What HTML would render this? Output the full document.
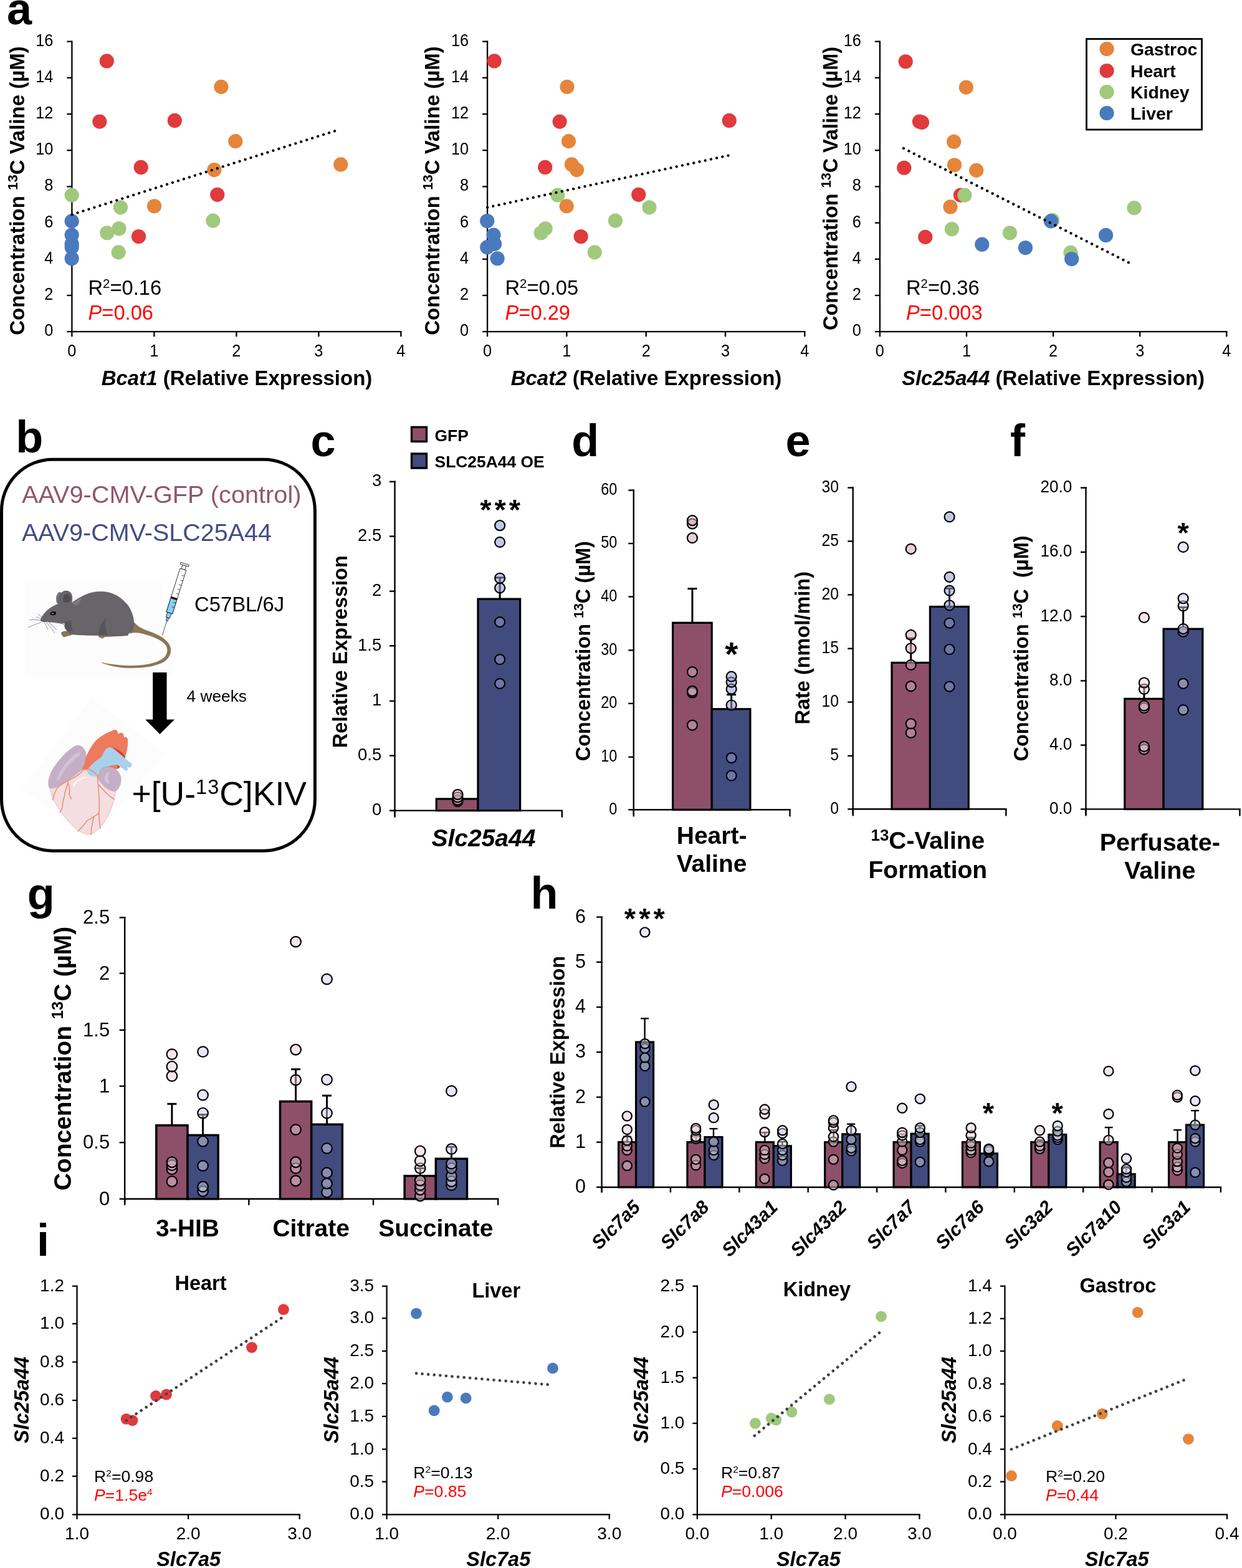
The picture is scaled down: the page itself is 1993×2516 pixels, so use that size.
<!DOCTYPE html>
<html lang="en">
<head>
<meta charset="utf-8">
<title>Figure</title>
<style>
html,body{margin:0;padding:0;background:#fff;}
body{width:1993px;height:2516px;overflow:hidden;}
svg{display:block;font-family:"Liberation Sans", sans-serif;}
text{white-space:pre;}
</style>
</head>
<body>
<svg width="1993" height="2516" viewBox="0 0 1993 2516" role="img" aria-label="Figure panels a to i">
<rect width="1993" height="2516" fill="#ffffff"/>
<text x="11.00" y="39.10" font-size="72" font-weight="bold">a</text>
<line x1="115.40" y1="65.45" x2="115.40" y2="540.20" stroke="#000" stroke-width="2.3"/>
<line x1="107.40" y1="532.20" x2="644.55" y2="532.20" stroke="#000" stroke-width="2.3"/>
<text transform="translate(115.40 571.70) scale(0.89 1)" font-size="28.5" text-anchor="middle">0</text>
<line x1="247.40" y1="532.20" x2="247.40" y2="540.20" stroke="#000" stroke-width="2.3"/>
<text transform="translate(247.40 571.70) scale(0.89 1)" font-size="28.5" text-anchor="middle">1</text>
<line x1="379.40" y1="532.20" x2="379.40" y2="540.20" stroke="#000" stroke-width="2.3"/>
<text transform="translate(379.40 571.70) scale(0.89 1)" font-size="28.5" text-anchor="middle">2</text>
<line x1="511.40" y1="532.20" x2="511.40" y2="540.20" stroke="#000" stroke-width="2.3"/>
<text transform="translate(511.40 571.70) scale(0.89 1)" font-size="28.5" text-anchor="middle">3</text>
<line x1="643.40" y1="532.20" x2="643.40" y2="540.20" stroke="#000" stroke-width="2.3"/>
<text transform="translate(643.40 571.70) scale(0.89 1)" font-size="28.5" text-anchor="middle">4</text>
<text transform="translate(85.40 539.10) scale(0.89 1)" font-size="28.5" text-anchor="end">0</text>
<line x1="107.40" y1="474.00" x2="115.40" y2="474.00" stroke="#000" stroke-width="2.3"/>
<text transform="translate(85.40 480.90) scale(0.89 1)" font-size="28.5" text-anchor="end">2</text>
<line x1="107.40" y1="415.80" x2="115.40" y2="415.80" stroke="#000" stroke-width="2.3"/>
<text transform="translate(85.40 422.70) scale(0.89 1)" font-size="28.5" text-anchor="end">4</text>
<line x1="107.40" y1="357.60" x2="115.40" y2="357.60" stroke="#000" stroke-width="2.3"/>
<text transform="translate(85.40 364.50) scale(0.89 1)" font-size="28.5" text-anchor="end">6</text>
<line x1="107.40" y1="299.40" x2="115.40" y2="299.40" stroke="#000" stroke-width="2.3"/>
<text transform="translate(85.40 306.30) scale(0.89 1)" font-size="28.5" text-anchor="end">8</text>
<line x1="107.40" y1="241.20" x2="115.40" y2="241.20" stroke="#000" stroke-width="2.3"/>
<text transform="translate(85.40 248.10) scale(0.89 1)" font-size="28.5" text-anchor="end">10</text>
<line x1="107.40" y1="183.00" x2="115.40" y2="183.00" stroke="#000" stroke-width="2.3"/>
<text transform="translate(85.40 189.90) scale(0.89 1)" font-size="28.5" text-anchor="end">12</text>
<line x1="107.40" y1="124.80" x2="115.40" y2="124.80" stroke="#000" stroke-width="2.3"/>
<text transform="translate(85.40 131.70) scale(0.89 1)" font-size="28.5" text-anchor="end">14</text>
<line x1="107.40" y1="66.60" x2="115.40" y2="66.60" stroke="#000" stroke-width="2.3"/>
<text transform="translate(85.40 73.50) scale(0.89 1)" font-size="28.5" text-anchor="end">16</text>
<circle cx="354.92" cy="139.34" r="11.6" fill="#E5853A"/>
<circle cx="377.87" cy="226.64" r="11.6" fill="#E5853A"/>
<circle cx="343.85" cy="272.54" r="11.6" fill="#E5853A"/>
<circle cx="546.72" cy="263.93" r="11.6" fill="#E5853A"/>
<circle cx="247.54" cy="330.74" r="11.6" fill="#E5853A"/>
<circle cx="171.31" cy="97.95" r="11.6" fill="#E03A3C"/>
<circle cx="159.84" cy="195.08" r="11.6" fill="#E03A3C"/>
<circle cx="280.33" cy="193.44" r="11.6" fill="#E03A3C"/>
<circle cx="226.23" cy="268.44" r="11.6" fill="#E03A3C"/>
<circle cx="348.77" cy="312.30" r="11.6" fill="#E03A3C"/>
<circle cx="222.54" cy="379.51" r="11.6" fill="#E03A3C"/>
<circle cx="115.16" cy="313.11" r="11.6" fill="#A0C97D"/>
<circle cx="193.44" cy="332.79" r="11.6" fill="#A0C97D"/>
<circle cx="190.98" cy="366.80" r="11.6" fill="#A0C97D"/>
<circle cx="171.72" cy="373.77" r="11.6" fill="#A0C97D"/>
<circle cx="190.16" cy="404.92" r="11.6" fill="#A0C97D"/>
<circle cx="341.80" cy="354.10" r="11.6" fill="#A0C97D"/>
<circle cx="115.16" cy="354.92" r="11.6" fill="#4A7ABE"/>
<circle cx="115.16" cy="377.05" r="11.6" fill="#4A7ABE"/>
<circle cx="115.16" cy="391.39" r="11.6" fill="#4A7ABE"/>
<circle cx="115.16" cy="396.72" r="11.6" fill="#4A7ABE"/>
<circle cx="115.16" cy="414.75" r="11.6" fill="#4A7ABE"/>
<line x1="115.57" y1="344.26" x2="540.98" y2="209.02" stroke="#000" stroke-width="4.3" stroke-linecap="round" stroke-dasharray="0.01 9.4"/>
<text x="141.50" y="472.50" font-size="32.7">R<tspan font-size="20.3" dy="-10.8">2</tspan><tspan dy="10.8">=0.16</tspan></text>
<text x="141.50" y="512.50" font-size="32.7" fill="#FF0000"><tspan font-style="italic">P</tspan>=0.06</text>
<text x="38.90" y="306.00" font-size="33" font-weight="bold" text-anchor="middle" transform="rotate(-90 38.90 306.00)">Concentration <tspan font-size="22.1" dy="-10.9">13</tspan><tspan dy="10.9">C Valine (µM)</tspan></text>
<text x="380.00" y="617.50" font-size="33" font-weight="bold" text-anchor="middle"><tspan font-style="italic">Bcat1</tspan> (Relative Expression)</text>
<line x1="782.10" y1="65.45" x2="782.10" y2="540.20" stroke="#000" stroke-width="2.3"/>
<line x1="774.10" y1="532.20" x2="1292.45" y2="532.20" stroke="#000" stroke-width="2.3"/>
<text transform="translate(782.10 571.70) scale(0.89 1)" font-size="28.5" text-anchor="middle">0</text>
<line x1="909.40" y1="532.20" x2="909.40" y2="540.20" stroke="#000" stroke-width="2.3"/>
<text transform="translate(909.40 571.70) scale(0.89 1)" font-size="28.5" text-anchor="middle">1</text>
<line x1="1036.70" y1="532.20" x2="1036.70" y2="540.20" stroke="#000" stroke-width="2.3"/>
<text transform="translate(1036.70 571.70) scale(0.89 1)" font-size="28.5" text-anchor="middle">2</text>
<line x1="1164.00" y1="532.20" x2="1164.00" y2="540.20" stroke="#000" stroke-width="2.3"/>
<text transform="translate(1164.00 571.70) scale(0.89 1)" font-size="28.5" text-anchor="middle">3</text>
<line x1="1291.30" y1="532.20" x2="1291.30" y2="540.20" stroke="#000" stroke-width="2.3"/>
<text transform="translate(1291.30 571.70) scale(0.89 1)" font-size="28.5" text-anchor="middle">4</text>
<text transform="translate(752.10 539.10) scale(0.89 1)" font-size="28.5" text-anchor="end">0</text>
<line x1="774.10" y1="474.00" x2="782.10" y2="474.00" stroke="#000" stroke-width="2.3"/>
<text transform="translate(752.10 480.90) scale(0.89 1)" font-size="28.5" text-anchor="end">2</text>
<line x1="774.10" y1="415.80" x2="782.10" y2="415.80" stroke="#000" stroke-width="2.3"/>
<text transform="translate(752.10 422.70) scale(0.89 1)" font-size="28.5" text-anchor="end">4</text>
<line x1="774.10" y1="357.60" x2="782.10" y2="357.60" stroke="#000" stroke-width="2.3"/>
<text transform="translate(752.10 364.50) scale(0.89 1)" font-size="28.5" text-anchor="end">6</text>
<line x1="774.10" y1="299.40" x2="782.10" y2="299.40" stroke="#000" stroke-width="2.3"/>
<text transform="translate(752.10 306.30) scale(0.89 1)" font-size="28.5" text-anchor="end">8</text>
<line x1="774.10" y1="241.20" x2="782.10" y2="241.20" stroke="#000" stroke-width="2.3"/>
<text transform="translate(752.10 248.10) scale(0.89 1)" font-size="28.5" text-anchor="end">10</text>
<line x1="774.10" y1="183.00" x2="782.10" y2="183.00" stroke="#000" stroke-width="2.3"/>
<text transform="translate(752.10 189.90) scale(0.89 1)" font-size="28.5" text-anchor="end">12</text>
<line x1="774.10" y1="124.80" x2="782.10" y2="124.80" stroke="#000" stroke-width="2.3"/>
<text transform="translate(752.10 131.70) scale(0.89 1)" font-size="28.5" text-anchor="end">14</text>
<line x1="774.10" y1="66.60" x2="782.10" y2="66.60" stroke="#000" stroke-width="2.3"/>
<text transform="translate(752.10 73.50) scale(0.89 1)" font-size="28.5" text-anchor="end">16</text>
<circle cx="910.00" cy="139.34" r="11.6" fill="#E5853A"/>
<circle cx="912.46" cy="226.64" r="11.6" fill="#E5853A"/>
<circle cx="925.57" cy="272.54" r="11.6" fill="#E5853A"/>
<circle cx="917.38" cy="263.93" r="11.6" fill="#E5853A"/>
<circle cx="909.18" cy="330.74" r="11.6" fill="#E5853A"/>
<circle cx="793.20" cy="97.95" r="11.6" fill="#E03A3C"/>
<circle cx="898.11" cy="195.08" r="11.6" fill="#E03A3C"/>
<circle cx="1170.25" cy="193.44" r="11.6" fill="#E03A3C"/>
<circle cx="874.75" cy="268.44" r="11.6" fill="#E03A3C"/>
<circle cx="1024.75" cy="312.30" r="11.6" fill="#E03A3C"/>
<circle cx="932.13" cy="379.51" r="11.6" fill="#E03A3C"/>
<circle cx="894.84" cy="313.11" r="11.6" fill="#A0C97D"/>
<circle cx="1041.97" cy="332.79" r="11.6" fill="#A0C97D"/>
<circle cx="875.16" cy="366.80" r="11.6" fill="#A0C97D"/>
<circle cx="868.20" cy="373.77" r="11.6" fill="#A0C97D"/>
<circle cx="954.26" cy="404.92" r="11.6" fill="#A0C97D"/>
<circle cx="987.46" cy="354.10" r="11.6" fill="#A0C97D"/>
<circle cx="781.72" cy="354.51" r="11.6" fill="#4A7ABE"/>
<circle cx="791.97" cy="377.05" r="11.6" fill="#4A7ABE"/>
<circle cx="793.61" cy="391.39" r="11.6" fill="#4A7ABE"/>
<circle cx="781.72" cy="396.72" r="11.6" fill="#4A7ABE"/>
<circle cx="798.11" cy="414.75" r="11.6" fill="#4A7ABE"/>
<line x1="782.13" y1="332.79" x2="1170.25" y2="249.18" stroke="#000" stroke-width="4.3" stroke-linecap="round" stroke-dasharray="0.01 9.4"/>
<text x="810.50" y="472.50" font-size="32.7">R<tspan font-size="20.3" dy="-10.8">2</tspan><tspan dy="10.8">=0.05</tspan></text>
<text x="810.50" y="512.50" font-size="32.7" fill="#FF0000"><tspan font-style="italic">P</tspan>=0.29</text>
<text x="705.10" y="306.00" font-size="33" font-weight="bold" text-anchor="middle" transform="rotate(-90 705.10 306.00)">Concentration <tspan font-size="22.1" dy="-10.9">13</tspan><tspan dy="10.9">C Valine (µM)</tspan></text>
<text x="1037.00" y="617.50" font-size="33" font-weight="bold" text-anchor="middle"><tspan font-style="italic">Bcat2</tspan> (Relative Expression)</text>
<line x1="1411.90" y1="65.45" x2="1411.90" y2="540.20" stroke="#000" stroke-width="2.3"/>
<line x1="1403.90" y1="532.20" x2="1969.45" y2="532.20" stroke="#000" stroke-width="2.3"/>
<text transform="translate(1411.90 571.70) scale(0.89 1)" font-size="28.5" text-anchor="middle">0</text>
<line x1="1551.00" y1="532.20" x2="1551.00" y2="540.20" stroke="#000" stroke-width="2.3"/>
<text transform="translate(1551.00 571.70) scale(0.89 1)" font-size="28.5" text-anchor="middle">1</text>
<line x1="1690.10" y1="532.20" x2="1690.10" y2="540.20" stroke="#000" stroke-width="2.3"/>
<text transform="translate(1690.10 571.70) scale(0.89 1)" font-size="28.5" text-anchor="middle">2</text>
<line x1="1829.20" y1="532.20" x2="1829.20" y2="540.20" stroke="#000" stroke-width="2.3"/>
<text transform="translate(1829.20 571.70) scale(0.89 1)" font-size="28.5" text-anchor="middle">3</text>
<line x1="1968.30" y1="532.20" x2="1968.30" y2="540.20" stroke="#000" stroke-width="2.3"/>
<text transform="translate(1968.30 571.70) scale(0.89 1)" font-size="28.5" text-anchor="middle">4</text>
<text transform="translate(1381.90 539.10) scale(0.89 1)" font-size="28.5" text-anchor="end">0</text>
<line x1="1403.90" y1="474.00" x2="1411.90" y2="474.00" stroke="#000" stroke-width="2.3"/>
<text transform="translate(1381.90 480.90) scale(0.89 1)" font-size="28.5" text-anchor="end">2</text>
<line x1="1403.90" y1="415.80" x2="1411.90" y2="415.80" stroke="#000" stroke-width="2.3"/>
<text transform="translate(1381.90 422.70) scale(0.89 1)" font-size="28.5" text-anchor="end">4</text>
<line x1="1403.90" y1="357.60" x2="1411.90" y2="357.60" stroke="#000" stroke-width="2.3"/>
<text transform="translate(1381.90 364.50) scale(0.89 1)" font-size="28.5" text-anchor="end">6</text>
<line x1="1403.90" y1="299.40" x2="1411.90" y2="299.40" stroke="#000" stroke-width="2.3"/>
<text transform="translate(1381.90 306.30) scale(0.89 1)" font-size="28.5" text-anchor="end">8</text>
<line x1="1403.90" y1="241.20" x2="1411.90" y2="241.20" stroke="#000" stroke-width="2.3"/>
<text transform="translate(1381.90 248.10) scale(0.89 1)" font-size="28.5" text-anchor="end">10</text>
<line x1="1403.90" y1="183.00" x2="1411.90" y2="183.00" stroke="#000" stroke-width="2.3"/>
<text transform="translate(1381.90 189.90) scale(0.89 1)" font-size="28.5" text-anchor="end">12</text>
<line x1="1403.90" y1="124.80" x2="1411.90" y2="124.80" stroke="#000" stroke-width="2.3"/>
<text transform="translate(1381.90 131.70) scale(0.89 1)" font-size="28.5" text-anchor="end">14</text>
<line x1="1403.90" y1="66.60" x2="1411.90" y2="66.60" stroke="#000" stroke-width="2.3"/>
<text transform="translate(1381.90 73.50) scale(0.89 1)" font-size="28.5" text-anchor="end">16</text>
<circle cx="1550.38" cy="140.16" r="11.6" fill="#E5853A"/>
<circle cx="1530.70" cy="227.46" r="11.6" fill="#E5853A"/>
<circle cx="1566.77" cy="273.36" r="11.6" fill="#E5853A"/>
<circle cx="1531.52" cy="264.75" r="11.6" fill="#E5853A"/>
<circle cx="1524.97" cy="331.97" r="11.6" fill="#E5853A"/>
<circle cx="1453.25" cy="98.77" r="11.6" fill="#E03A3C"/>
<circle cx="1479.48" cy="196.31" r="11.6" fill="#E03A3C"/>
<circle cx="1475.38" cy="195.08" r="11.6" fill="#E03A3C"/>
<circle cx="1450.79" cy="269.26" r="11.6" fill="#E03A3C"/>
<circle cx="1541.36" cy="313.11" r="11.6" fill="#E03A3C"/>
<circle cx="1484.80" cy="380.33" r="11.6" fill="#E03A3C"/>
<circle cx="1547.92" cy="313.11" r="11.6" fill="#A0C97D"/>
<circle cx="1820.05" cy="333.61" r="11.6" fill="#A0C97D"/>
<circle cx="1527.43" cy="367.62" r="11.6" fill="#A0C97D"/>
<circle cx="1620.46" cy="373.77" r="11.6" fill="#A0C97D"/>
<circle cx="1718.00" cy="405.33" r="11.6" fill="#A0C97D"/>
<circle cx="1688.49" cy="353.28" r="11.6" fill="#A0C97D"/>
<circle cx="1686.44" cy="354.92" r="11.6" fill="#4A7ABE"/>
<circle cx="1774.56" cy="377.46" r="11.6" fill="#4A7ABE"/>
<circle cx="1575.79" cy="392.21" r="11.6" fill="#4A7ABE"/>
<circle cx="1645.46" cy="397.54" r="11.6" fill="#4A7ABE"/>
<circle cx="1719.64" cy="415.57" r="11.6" fill="#4A7ABE"/>
<line x1="1449.97" y1="238.11" x2="1813.49" y2="422.54" stroke="#000" stroke-width="4.3" stroke-linecap="round" stroke-dasharray="0.01 9.4"/>
<text x="1454.00" y="472.50" font-size="32.7">R<tspan font-size="20.3" dy="-10.8">2</tspan><tspan dy="10.8">=0.36</tspan></text>
<text x="1454.00" y="512.50" font-size="32.7" fill="#FF0000"><tspan font-style="italic">P</tspan>=0.003</text>
<text x="1344.20" y="302.50" font-size="32.4" font-weight="bold" text-anchor="middle" transform="rotate(-90 1344.20 302.50)">Concentration <tspan font-size="21.7" dy="-10.7">13</tspan><tspan dy="10.7">C Valine (µM)</tspan></text>
<text x="1690.00" y="617.50" font-size="33" font-weight="bold" text-anchor="middle"><tspan font-style="italic">Slc25a44</tspan> (Relative Expression)</text>
<rect x="1743.50" y="62.50" width="185.00" height="145.50" fill="#fff" stroke="#000" stroke-width="2.8"/>
<circle cx="1776.00" cy="78.50" r="11.6" fill="#E5853A"/>
<text x="1814.00" y="88.70" font-size="28.4" font-weight="bold">Gastroc</text>
<circle cx="1776.00" cy="113.50" r="11.6" fill="#E03A3C"/>
<text x="1814.00" y="123.70" font-size="28.4" font-weight="bold">Heart</text>
<circle cx="1776.00" cy="147.50" r="11.6" fill="#A0C97D"/>
<text x="1814.00" y="157.70" font-size="28.4" font-weight="bold">Kidney</text>
<circle cx="1776.00" cy="181.50" r="11.6" fill="#4A7ABE"/>
<text x="1814.00" y="191.70" font-size="28.4" font-weight="bold">Liver</text>
<text x="25.20" y="726.40" font-size="72" font-weight="bold">b</text>
<rect x="2.50" y="737.20" width="502.90" height="628.00" fill="none" stroke="#000" stroke-width="5.0" rx="82"/>
<text x="35.00" y="806.80" font-size="39.7" fill="#91566F">AAV9-CMV-GFP (control)</text>
<text x="35.00" y="868.00" font-size="39.5" fill="#444D82">AAV9-CMV-SLC25A44</text>
<rect x="39.7" y="932.2" width="220.4" height="152.8" fill="#FCFCFC"/>
<rect x="258.3" y="1020.9" width="19.3" height="64.1" fill="#FCFCFC"/>
<g transform="translate(30,890) scale(0.17564)">
<path d="M1040 600 C1075 650 1120 675 1190 700 C1290 735 1350 775 1380 830 C1400 880 1385 935 1335 972 C1270 1015 1160 1035 1030 1035 C930 1035 830 1018 755 985 C840 1003 930 1015 1030 1015 C1150 1015 1250 995 1310 955 C1355 925 1368 880 1352 840 C1330 795 1270 765 1180 735 C1110 712 1060 705 1020 720 Z" fill="#8C7553" stroke="#6F5C40" stroke-width="2"/>
</g>
<g transform="translate(30,920) scale(0.11710)" stroke-linejoin="round">
<path d="M1170 820 L1500 825 L1495 852 L1180 868 L1150 888 L1125 880 L1100 868 L1095 845 L1120 828 Z" fill="#8C7553" stroke="#4A484D" stroke-width="5"/>
<path d="M690 810 L1110 835 L1105 852 L700 840 Z" fill="#8C7553"/>
<path d="M700 800 C660 790 620 792 595 805 C578 818 585 838 600 845 C598 862 615 875 632 868 C650 862 680 850 720 845 Z" fill="#8C7553" stroke="#4A484D" stroke-width="5"/>
<path d="M528 410 C508 360 512 300 545 268 C565 250 582 262 588 285 L575 410 Z" fill="#7A777C" stroke="#4A484D" stroke-width="5"/>
<path d="M300 640 C312 600 350 545 400 500 C445 462 495 435 545 418 C540 360 555 290 600 255 C640 228 695 235 720 280 C735 315 738 365 722 405 C790 360 880 300 985 268 C1060 248 1150 245 1230 262 C1330 285 1430 350 1500 445 C1550 520 1578 610 1576 690 C1574 750 1550 800 1510 825 C1470 845 1400 850 1320 848 C1240 848 1170 842 1110 845 C1000 850 860 848 760 835 C720 828 690 812 665 790 C640 765 615 725 640 690 C600 678 520 668 450 662 C400 660 345 664 320 660 C305 655 298 648 300 640 Z" fill="#67646A" stroke="#4A484D" stroke-width="5"/>
<path d="M728 408 C770 378 820 350 868 335 C850 370 830 410 800 445 C775 440 750 425 728 408 Z" fill="#7C797E"/>
<path d="M642 690 C660 660 690 645 722 640 C715 690 725 745 742 790 C715 795 690 800 665 790 C640 765 620 725 642 690 Z" fill="#57555B"/>
<path d="M1100 845 C1095 770 1120 680 1195 615 C1180 700 1190 780 1220 848 Z" fill="#57555B"/>
<path d="M612 385 C598 340 615 295 655 280 C690 275 715 310 712 355 C708 385 690 400 660 402 C640 402 622 398 612 385 Z" fill="#4F4D52"/>
<ellipse cx="472" cy="548" rx="41" ry="26" transform="rotate(-6 472 548)" fill="#0E0E0E"/>
<ellipse cx="468" cy="550" rx="11" ry="8" fill="#C8C8C8"/>
<path d="M335 655 C420 665 520 672 600 690 C615 705 625 720 640 700 C650 685 650 668 648 655" fill="none" stroke="#3E3C40" stroke-width="7" stroke-linecap="round"/>
<path d="M300 642 C250 636 200 634 150 636" fill="none" stroke="#97A3B0" stroke-width="9" stroke-linecap="round"/>
<path d="M302 622 C280 608 258 600 240 598" fill="none" stroke="#97A3B0" stroke-width="9" stroke-linecap="round"/>
<path d="M318 604 C300 585 285 572 266 558" fill="none" stroke="#97A3B0" stroke-width="9" stroke-linecap="round"/>
<path d="M305 672 C245 690 190 712 135 738" fill="none" stroke="#97A3B0" stroke-width="9" stroke-linecap="round"/>
<path d="M350 668 C370 700 388 735 398 765" fill="none" stroke="#97A3B0" stroke-width="9" stroke-linecap="round"/>
<path d="M372 662 C415 710 455 760 492 815" fill="none" stroke="#97A3B0" stroke-width="9" stroke-linecap="round"/>
<path d="M392 655 C435 690 478 730 515 770" fill="none" stroke="#97A3B0" stroke-width="9" stroke-linecap="round"/>
</g>
<g transform="translate(30,890) scale(0.17564) translate(1518,85) rotate(17.54)" stroke="#1a1a1a" stroke-width="4.6" stroke-linejoin="round">
<rect x="-40" y="-3" width="80" height="17" fill="#fff"/>
<rect x="-17" y="14" width="34" height="38" fill="#fff"/>
<rect x="-29" y="52" width="58" height="417" fill="#fff"/>
<rect x="-29" y="336" width="58" height="133" fill="#86D0F4"/>
<rect x="-29" y="322" width="58" height="13" fill="#111"/>
<rect x="-18" y="469" width="36" height="46" fill="#86D0F4"/>
<rect x="-8" y="515" width="16" height="31" fill="#86D0F4"/>
<line x1="0" y1="546" x2="0" y2="684" stroke-width="4"/>
<line x1="5" y1="107" x2="29" y2="107" stroke-width="4"/>
<line x1="5" y1="153" x2="29" y2="153" stroke-width="4"/>
<line x1="5" y1="196" x2="29" y2="196" stroke-width="4"/>
<line x1="5" y1="238" x2="29" y2="238" stroke-width="4"/>
<line x1="5" y1="281" x2="29" y2="281" stroke-width="4"/>
<line x1="5" y1="366" x2="29" y2="366" stroke-width="4"/>
<line x1="5" y1="409" x2="29" y2="409" stroke-width="4"/>
</g>
<text x="312.00" y="981.20" font-size="32.8">C57BL/6J</text>
<path d="M245.2 1079 L267.6 1079 L267.6 1154.6 L280.2 1154.6 L256.5 1178 L233.2 1154.6 L245.2 1154.6 Z" fill="#000"/>
<text x="299.50" y="1125.50" font-size="26.3">4 weeks</text>
<g transform="translate(30,1110) scale(0.15222)">
<path d="M770 62 L1552 652 L770 1562 L30 1020 Z" fill="#FCFCFC"/>
<path d="M665 820 C690 720 730 620 800 530 C850 470 930 430 1010 400 C1030 395 1045 420 1050 450 C1065 425 1095 425 1105 450 L1112 485 C1125 470 1148 478 1150 505 C1155 570 1140 640 1118 700 C1095 760 1070 800 1040 815 L900 840 L760 830 Z" fill="#EC7A5B"/>
<path d="M990 590 C1040 600 1100 640 1125 690 C1110 740 1080 790 1045 812 C1040 760 1020 700 985 640 Z" fill="#E2382E"/>
<path d="M328 1005 C420 960 540 880 650 825 C720 830 790 860 840 890 C900 940 960 1000 1022 1040 C1010 1130 980 1240 930 1330 C890 1400 830 1470 760 1505 C700 1500 640 1480 600 1440 C520 1370 440 1270 385 1170 C350 1110 335 1050 328 1005 Z" fill="#F4DEE1" stroke="#E8B4B8" stroke-width="6"/>
<path d="M580 1000 C600 950 660 910 740 900 C680 890 600 920 570 990 Z" fill="#FFFFFF" opacity="0.9"/>
<path d="M718 830 C750 780 820 720 870 690 C890 660 900 620 930 595 C950 580 975 585 1000 600 L1192 760 C1198 775 1185 795 1168 800 L1140 790 C1155 810 1150 830 1132 835 L1040 770 C980 770 920 790 880 810 C850 830 830 860 815 890 C770 900 730 880 718 830 Z" fill="#A9D1EA"/>
<path d="M322 1010 C300 960 320 880 370 800 C430 710 510 620 590 575 C640 550 690 580 705 640 C715 700 700 770 655 830 C600 880 520 930 440 985 C400 1010 355 1025 322 1010 Z" fill="#C5AFC6" stroke="#A892AE" stroke-width="3"/>
<path d="M400 930 C430 830 520 700 620 640 C640 630 655 640 650 665 C560 720 470 830 430 930 Z" fill="#D8C7D9" opacity="0.8"/>
<path d="M830 880 C850 820 900 785 960 790 C1020 800 1070 850 1078 910 C1082 970 1060 1020 1020 1048 C980 1050 930 1025 890 985 C855 950 835 915 830 880 Z" fill="#C5AFC6" stroke="#A892AE" stroke-width="3"/>
<path d="M905 940 C900 890 925 850 970 835 C940 870 935 920 960 975 Z" fill="#D8C7D9" opacity="0.8"/>
<path d="M690 815 C660 850 630 880 590 900 C530 930 470 960 420 1000 C390 1030 370 1080 360 1140" fill="none" stroke="#EC8D6E" stroke-width="10" stroke-linecap="round" stroke-linejoin="round"/>
<path d="M520 950 C510 1000 490 1040 485 1080 C480 1120 465 1150 462 1190 C470 1215 450 1240 435 1270" fill="none" stroke="#EC8D6E" stroke-width="10" stroke-linecap="round" stroke-linejoin="round"/>
<path d="M520 960 C535 1000 545 1040 530 1080 C540 1100 548 1115 555 1130" fill="none" stroke="#EC8D6E" stroke-width="10" stroke-linecap="round" stroke-linejoin="round"/>
<path d="M730 810 C770 830 800 850 825 875 C835 930 840 1000 845 1080 C850 1150 855 1220 845 1290 C850 1360 855 1410 860 1440" fill="none" stroke="#EC8D6E" stroke-width="10" stroke-linecap="round" stroke-linejoin="round"/>
<path d="M845 980 C880 1020 920 1070 960 1100 C980 1115 995 1125 1005 1135" fill="none" stroke="#EC8D6E" stroke-width="10" stroke-linecap="round" stroke-linejoin="round"/>
<path d="M845 1280 C800 1310 760 1340 720 1360 C690 1400 660 1440 625 1470" fill="none" stroke="#EC8D6E" stroke-width="10" stroke-linecap="round" stroke-linejoin="round"/>
<path d="M790 1320 C780 1380 770 1420 765 1450 C770 1480 765 1495 760 1505" fill="none" stroke="#EC8D6E" stroke-width="10" stroke-linecap="round" stroke-linejoin="round"/>
</g>
<text x="211.50" y="1292.00" font-size="53.5">+[U-<tspan font-size="32.5" dy="-18.5" letter-spacing="1">13</tspan><tspan dy="18.5">C]KIV</tspan></text>
<text x="498.40" y="732.00" font-size="72" font-weight="bold">c</text>
<rect x="660.50" y="685.40" width="24.00" height="23.00" fill="#8E4F69" stroke="#000" stroke-width="3.4"/>
<rect x="660.50" y="728.00" width="24.00" height="23.00" fill="#424B7E" stroke="#000" stroke-width="3.4"/>
<text x="697.59" y="707.60" font-size="26.4" font-weight="bold">GFP</text>
<text x="697.59" y="750.30" font-size="26.4" font-weight="bold">SLC25A44 OE</text>
<rect x="700.26" y="1281.94" width="66.74" height="18.69" fill="#8E4F69" stroke="#000" stroke-width="3.2"/>
<rect x="767.00" y="961.12" width="67.63" height="339.51" fill="#424B7E" stroke="#000" stroke-width="3.2"/>
<line x1="802.15" y1="961.12" x2="802.15" y2="926.86" stroke="#000" stroke-width="3.0"/>
<line x1="794.65" y1="926.86" x2="809.65" y2="926.86" stroke="#000" stroke-width="3.0"/>
<line x1="633.51" y1="771.70" x2="633.51" y2="1309.13" stroke="#000" stroke-width="2.4"/>
<line x1="625.01" y1="772.90" x2="634.71" y2="772.90" stroke="#000" stroke-width="2.4"/>
<text x="612.31" y="780.30" font-size="27.5" text-anchor="end">3</text>
<line x1="625.01" y1="860.56" x2="634.71" y2="860.56" stroke="#000" stroke-width="2.4"/>
<text x="612.31" y="867.96" font-size="27.5" text-anchor="end">2.5</text>
<line x1="625.01" y1="948.67" x2="634.71" y2="948.67" stroke="#000" stroke-width="2.4"/>
<text x="612.31" y="956.06" font-size="27.5" text-anchor="end">2</text>
<line x1="625.01" y1="1036.32" x2="634.71" y2="1036.32" stroke="#000" stroke-width="2.4"/>
<text x="612.31" y="1043.72" font-size="27.5" text-anchor="end">1.5</text>
<line x1="625.01" y1="1124.87" x2="634.71" y2="1124.87" stroke="#000" stroke-width="2.4"/>
<text x="612.31" y="1132.27" font-size="27.5" text-anchor="end">1</text>
<line x1="625.01" y1="1212.53" x2="634.71" y2="1212.53" stroke="#000" stroke-width="2.4"/>
<text x="612.31" y="1219.93" font-size="27.5" text-anchor="end">0.5</text>
<line x1="625.01" y1="1300.63" x2="634.71" y2="1300.63" stroke="#000" stroke-width="2.4"/>
<text x="612.31" y="1308.03" font-size="27.5" text-anchor="end">0</text>
<line x1="632.31" y1="1300.63" x2="903.03" y2="1300.63" stroke="#000" stroke-width="2.4"/>
<line x1="633.51" y1="1300.63" x2="633.51" y2="1311.63" stroke="#000" stroke-width="2.4"/>
<line x1="901.83" y1="1300.63" x2="901.83" y2="1311.63" stroke="#000" stroke-width="2.4"/>
<circle cx="734.52" cy="1285.95" r="8.0" fill="#D2ACB9" fill-opacity="0.55" stroke="#000" stroke-width="2.2"/>
<circle cx="734.52" cy="1283.72" r="8.0" fill="#D2ACB9" fill-opacity="0.55" stroke="#000" stroke-width="2.2"/>
<circle cx="734.52" cy="1279.27" r="8.0" fill="#D2ACB9" fill-opacity="0.55" stroke="#000" stroke-width="2.2"/>
<circle cx="734.52" cy="1274.82" r="8.0" fill="#D2ACB9" fill-opacity="0.55" stroke="#000" stroke-width="2.2"/>
<circle cx="802.15" cy="1096.84" r="8.0" fill="#939BCF" fill-opacity="0.55" stroke="#000" stroke-width="2.2"/>
<circle cx="802.15" cy="1058.13" r="8.0" fill="#939BCF" fill-opacity="0.55" stroke="#000" stroke-width="2.2"/>
<circle cx="802.15" cy="998.06" r="8.0" fill="#939BCF" fill-opacity="0.55" stroke="#000" stroke-width="2.2"/>
<circle cx="802.15" cy="943.33" r="8.0" fill="#939BCF" fill-opacity="0.55" stroke="#000" stroke-width="2.2"/>
<circle cx="802.15" cy="927.75" r="8.0" fill="#939BCF" fill-opacity="0.55" stroke="#000" stroke-width="2.2"/>
<circle cx="802.15" cy="869.91" r="8.0" fill="#939BCF" fill-opacity="0.55" stroke="#000" stroke-width="2.2"/>
<circle cx="802.15" cy="843.21" r="8.0" fill="#939BCF" fill-opacity="0.55" stroke="#000" stroke-width="2.2"/>
<text x="805.10" y="833.59" font-size="47" font-weight="bold" text-anchor="middle" letter-spacing="5.0">***</text>
<text x="557.04" y="1045.67" font-size="32.5" font-weight="bold" text-anchor="middle" transform="rotate(-90 557.04 1045.67)">Relative Expression</text>
<text x="775.90" y="1357.50" font-size="39" font-weight="bold" font-style="italic" text-anchor="middle">Slc25a44</text>
<text x="917.30" y="732.00" font-size="72" font-weight="bold">d</text>
<rect x="1079.60" y="999.34" width="62.60" height="299.91" fill="#8E4F69" stroke="#000" stroke-width="3.2"/>
<rect x="1142.20" y="1137.73" width="61.70" height="161.52" fill="#424B7E" stroke="#000" stroke-width="3.2"/>
<line x1="1110.96" y1="999.34" x2="1110.96" y2="944.61" stroke="#000" stroke-width="3.0"/>
<line x1="1103.46" y1="944.61" x2="1118.46" y2="944.61" stroke="#000" stroke-width="3.0"/>
<line x1="1173.65" y1="1137.73" x2="1173.65" y2="1114.59" stroke="#000" stroke-width="3.0"/>
<line x1="1166.15" y1="1114.59" x2="1181.15" y2="1114.59" stroke="#000" stroke-width="3.0"/>
<line x1="1016.79" y1="785.45" x2="1016.79" y2="1307.75" stroke="#000" stroke-width="2.4"/>
<line x1="1008.29" y1="786.65" x2="1017.99" y2="786.65" stroke="#000" stroke-width="2.4"/>
<text transform="translate(990.29 794.05) scale(0.855 1)" font-size="27.5" text-anchor="end">60</text>
<line x1="1008.29" y1="872.08" x2="1017.99" y2="872.08" stroke="#000" stroke-width="2.4"/>
<text transform="translate(990.29 879.48) scale(0.855 1)" font-size="27.5" text-anchor="end">50</text>
<line x1="1008.29" y1="957.51" x2="1017.99" y2="957.51" stroke="#000" stroke-width="2.4"/>
<text transform="translate(990.29 964.91) scale(0.855 1)" font-size="27.5" text-anchor="end">40</text>
<line x1="1008.29" y1="1043.39" x2="1017.99" y2="1043.39" stroke="#000" stroke-width="2.4"/>
<text transform="translate(990.29 1050.79) scale(0.855 1)" font-size="27.5" text-anchor="end">30</text>
<line x1="1008.29" y1="1128.83" x2="1017.99" y2="1128.83" stroke="#000" stroke-width="2.4"/>
<text transform="translate(990.29 1136.22) scale(0.855 1)" font-size="27.5" text-anchor="end">20</text>
<line x1="1008.29" y1="1214.70" x2="1017.99" y2="1214.70" stroke="#000" stroke-width="2.4"/>
<text transform="translate(990.29 1222.10) scale(0.855 1)" font-size="27.5" text-anchor="end">10</text>
<line x1="1008.29" y1="1299.25" x2="1017.99" y2="1299.25" stroke="#000" stroke-width="2.4"/>
<text transform="translate(990.29 1306.65) scale(0.855 1)" font-size="27.5" text-anchor="end">0</text>
<line x1="1015.59" y1="1299.25" x2="1268.70" y2="1299.25" stroke="#000" stroke-width="2.4"/>
<line x1="1016.79" y1="1299.25" x2="1016.79" y2="1310.25" stroke="#000" stroke-width="2.4"/>
<line x1="1267.50" y1="1299.25" x2="1267.50" y2="1310.25" stroke="#000" stroke-width="2.4"/>
<circle cx="1110.96" cy="1163.53" r="8.0" fill="#D2ACB9" fill-opacity="0.55" stroke="#000" stroke-width="2.2"/>
<circle cx="1110.96" cy="1111.47" r="8.0" fill="#D2ACB9" fill-opacity="0.55" stroke="#000" stroke-width="2.2"/>
<circle cx="1110.96" cy="1108.80" r="8.0" fill="#D2ACB9" fill-opacity="0.55" stroke="#000" stroke-width="2.2"/>
<circle cx="1110.96" cy="1078.10" r="8.0" fill="#D2ACB9" fill-opacity="0.55" stroke="#000" stroke-width="2.2"/>
<circle cx="1110.96" cy="863.18" r="8.0" fill="#D2ACB9" fill-opacity="0.55" stroke="#000" stroke-width="2.2"/>
<circle cx="1110.96" cy="840.49" r="8.0" fill="#D2ACB9" fill-opacity="0.55" stroke="#000" stroke-width="2.2"/>
<circle cx="1110.96" cy="835.15" r="8.0" fill="#D2ACB9" fill-opacity="0.55" stroke="#000" stroke-width="2.2"/>
<circle cx="1173.65" cy="1244.52" r="8.0" fill="#939BCF" fill-opacity="0.55" stroke="#000" stroke-width="2.2"/>
<circle cx="1173.65" cy="1216.04" r="8.0" fill="#939BCF" fill-opacity="0.55" stroke="#000" stroke-width="2.2"/>
<circle cx="1173.65" cy="1131.50" r="8.0" fill="#939BCF" fill-opacity="0.55" stroke="#000" stroke-width="2.2"/>
<circle cx="1173.65" cy="1105.69" r="8.0" fill="#939BCF" fill-opacity="0.55" stroke="#000" stroke-width="2.2"/>
<circle cx="1173.65" cy="1094.56" r="8.0" fill="#939BCF" fill-opacity="0.55" stroke="#000" stroke-width="2.2"/>
<circle cx="1173.65" cy="1085.66" r="8.0" fill="#939BCF" fill-opacity="0.55" stroke="#000" stroke-width="2.2"/>
<text x="1176.30" y="1067.91" font-size="54" font-weight="bold" text-anchor="middle" letter-spacing="5.0">*</text>
<text x="946.56" y="1044.73" font-size="32.5" font-weight="bold" text-anchor="middle" transform="rotate(-90 946.56 1044.73)">Concentration <tspan font-size="21.4" dy="-10.7">13</tspan><tspan dy="10.7">C (µM)</tspan></text>
<text x="1142.11" y="1354.00" font-size="39" font-weight="bold" text-anchor="middle">Heart-</text>
<text x="1142.11" y="1399.00" font-size="39" font-weight="bold" text-anchor="middle">Valine</text>
<text x="1260.60" y="732.00" font-size="72" font-weight="bold">e</text>
<rect x="1431.01" y="1063.37" width="61.41" height="234.94" fill="#8E4F69" stroke="#000" stroke-width="3.2"/>
<rect x="1492.41" y="973.48" width="61.85" height="324.82" fill="#424B7E" stroke="#000" stroke-width="3.2"/>
<line x1="1461.71" y1="1063.37" x2="1461.71" y2="1024.21" stroke="#000" stroke-width="3.0"/>
<line x1="1454.21" y1="1024.21" x2="1469.21" y2="1024.21" stroke="#000" stroke-width="3.0"/>
<line x1="1523.56" y1="973.48" x2="1523.56" y2="944.12" stroke="#000" stroke-width="3.0"/>
<line x1="1516.06" y1="944.12" x2="1531.06" y2="944.12" stroke="#000" stroke-width="3.0"/>
<line x1="1368.71" y1="781.39" x2="1368.71" y2="1306.81" stroke="#000" stroke-width="2.4"/>
<line x1="1360.21" y1="782.59" x2="1369.91" y2="782.59" stroke="#000" stroke-width="2.4"/>
<text transform="translate(1345.91 789.99) scale(0.9 1)" font-size="27.5" text-anchor="end">30</text>
<line x1="1360.21" y1="868.47" x2="1369.91" y2="868.47" stroke="#000" stroke-width="2.4"/>
<text transform="translate(1345.91 875.87) scale(0.9 1)" font-size="27.5" text-anchor="end">25</text>
<line x1="1360.21" y1="954.35" x2="1369.91" y2="954.35" stroke="#000" stroke-width="2.4"/>
<text transform="translate(1345.91 961.75) scale(0.9 1)" font-size="27.5" text-anchor="end">20</text>
<line x1="1360.21" y1="1040.67" x2="1369.91" y2="1040.67" stroke="#000" stroke-width="2.4"/>
<text transform="translate(1345.91 1048.07) scale(0.9 1)" font-size="27.5" text-anchor="end">15</text>
<line x1="1360.21" y1="1126.55" x2="1369.91" y2="1126.55" stroke="#000" stroke-width="2.4"/>
<text transform="translate(1345.91 1133.95) scale(0.9 1)" font-size="27.5" text-anchor="end">10</text>
<line x1="1360.21" y1="1212.87" x2="1369.91" y2="1212.87" stroke="#000" stroke-width="2.4"/>
<text transform="translate(1345.91 1220.27) scale(0.9 1)" font-size="27.5" text-anchor="end">5</text>
<line x1="1360.21" y1="1298.31" x2="1369.91" y2="1298.31" stroke="#000" stroke-width="2.4"/>
<text transform="translate(1345.91 1305.71) scale(0.9 1)" font-size="27.5" text-anchor="end">0</text>
<line x1="1367.51" y1="1298.31" x2="1615.53" y2="1298.31" stroke="#000" stroke-width="2.4"/>
<line x1="1368.71" y1="1298.31" x2="1368.71" y2="1309.31" stroke="#000" stroke-width="2.4"/>
<line x1="1614.33" y1="1298.31" x2="1614.33" y2="1309.31" stroke="#000" stroke-width="2.4"/>
<circle cx="1461.71" cy="1175.94" r="8.0" fill="#D2ACB9" fill-opacity="0.55" stroke="#000" stroke-width="2.2"/>
<circle cx="1461.71" cy="1161.26" r="8.0" fill="#D2ACB9" fill-opacity="0.55" stroke="#000" stroke-width="2.2"/>
<circle cx="1461.71" cy="1101.19" r="8.0" fill="#D2ACB9" fill-opacity="0.55" stroke="#000" stroke-width="2.2"/>
<circle cx="1461.71" cy="1066.93" r="8.0" fill="#D2ACB9" fill-opacity="0.55" stroke="#000" stroke-width="2.2"/>
<circle cx="1461.71" cy="1040.23" r="8.0" fill="#D2ACB9" fill-opacity="0.55" stroke="#000" stroke-width="2.2"/>
<circle cx="1461.71" cy="1018.87" r="8.0" fill="#D2ACB9" fill-opacity="0.55" stroke="#000" stroke-width="2.2"/>
<circle cx="1461.71" cy="880.93" r="8.0" fill="#D2ACB9" fill-opacity="0.55" stroke="#000" stroke-width="2.2"/>
<circle cx="1523.56" cy="1101.63" r="8.0" fill="#939BCF" fill-opacity="0.55" stroke="#000" stroke-width="2.2"/>
<circle cx="1523.56" cy="1042.01" r="8.0" fill="#939BCF" fill-opacity="0.55" stroke="#000" stroke-width="2.2"/>
<circle cx="1523.56" cy="999.74" r="8.0" fill="#939BCF" fill-opacity="0.55" stroke="#000" stroke-width="2.2"/>
<circle cx="1523.56" cy="971.26" r="8.0" fill="#939BCF" fill-opacity="0.55" stroke="#000" stroke-width="2.2"/>
<circle cx="1523.56" cy="947.68" r="8.0" fill="#939BCF" fill-opacity="0.55" stroke="#000" stroke-width="2.2"/>
<circle cx="1523.56" cy="925.87" r="8.0" fill="#939BCF" fill-opacity="0.55" stroke="#000" stroke-width="2.2"/>
<circle cx="1523.56" cy="829.32" r="8.0" fill="#939BCF" fill-opacity="0.55" stroke="#000" stroke-width="2.2"/>
<text x="1298.92" y="1039.78" font-size="32.5" font-weight="bold" text-anchor="middle" transform="rotate(-90 1298.92 1039.78)">Rate (nmol/min)</text>
<text x="1488.85" y="1362.20" font-size="39" font-weight="bold" text-anchor="middle"><tspan font-size="26" dy="-13">13</tspan><tspan dy="13">C-Valine</tspan></text>
<text x="1488.85" y="1408.80" font-size="39" font-weight="bold" text-anchor="middle">Formation</text>
<text x="1621.10" y="732.00" font-size="72" font-weight="bold">f</text>
<rect x="1804.78" y="1121.31" width="62.30" height="177.10" fill="#8E4F69" stroke="#000" stroke-width="3.2"/>
<rect x="1867.07" y="1009.18" width="62.74" height="289.23" fill="#424B7E" stroke="#000" stroke-width="3.2"/>
<line x1="1835.93" y1="1121.31" x2="1835.93" y2="1101.29" stroke="#000" stroke-width="3.0"/>
<line x1="1828.43" y1="1101.29" x2="1843.43" y2="1101.29" stroke="#000" stroke-width="3.0"/>
<line x1="1898.67" y1="1009.18" x2="1898.67" y2="974.47" stroke="#000" stroke-width="3.0"/>
<line x1="1891.17" y1="974.47" x2="1906.17" y2="974.47" stroke="#000" stroke-width="3.0"/>
<line x1="1742.48" y1="781.49" x2="1742.48" y2="1306.91" stroke="#000" stroke-width="2.4"/>
<line x1="1733.98" y1="782.69" x2="1743.68" y2="782.69" stroke="#000" stroke-width="2.4"/>
<text transform="translate(1720.38 790.09) scale(0.95 1)" font-size="27.5" text-anchor="end">20.0</text>
<line x1="1733.98" y1="885.93" x2="1743.68" y2="885.93" stroke="#000" stroke-width="2.4"/>
<text transform="translate(1720.38 893.32) scale(0.95 1)" font-size="27.5" text-anchor="end">16.0</text>
<line x1="1733.98" y1="989.16" x2="1743.68" y2="989.16" stroke="#000" stroke-width="2.4"/>
<text transform="translate(1720.38 996.55) scale(0.95 1)" font-size="27.5" text-anchor="end">12.0</text>
<line x1="1733.98" y1="1092.39" x2="1743.68" y2="1092.39" stroke="#000" stroke-width="2.4"/>
<text transform="translate(1720.38 1099.79) scale(0.95 1)" font-size="27.5" text-anchor="end">8.0</text>
<line x1="1733.98" y1="1195.62" x2="1743.68" y2="1195.62" stroke="#000" stroke-width="2.4"/>
<text transform="translate(1720.38 1203.02) scale(0.95 1)" font-size="27.5" text-anchor="end">4.0</text>
<line x1="1733.98" y1="1298.41" x2="1743.68" y2="1298.41" stroke="#000" stroke-width="2.4"/>
<text transform="translate(1720.38 1305.81) scale(0.95 1)" font-size="27.5" text-anchor="end">0.0</text>
<line x1="1741.28" y1="1298.41" x2="1990.64" y2="1298.41" stroke="#000" stroke-width="2.4"/>
<line x1="1742.48" y1="1298.41" x2="1742.48" y2="1309.41" stroke="#000" stroke-width="2.4"/>
<line x1="1989.44" y1="1298.41" x2="1989.44" y2="1309.41" stroke="#000" stroke-width="2.4"/>
<circle cx="1835.93" cy="1202.30" r="8.0" fill="#E6D0D8" fill-opacity="0.5" stroke="#000" stroke-width="2.2"/>
<circle cx="1835.93" cy="1197.85" r="8.0" fill="#E6D0D8" fill-opacity="0.5" stroke="#000" stroke-width="2.2"/>
<circle cx="1835.93" cy="1136.00" r="8.0" fill="#E6D0D8" fill-opacity="0.5" stroke="#000" stroke-width="2.2"/>
<circle cx="1835.93" cy="1132.44" r="8.0" fill="#E6D0D8" fill-opacity="0.5" stroke="#000" stroke-width="2.2"/>
<circle cx="1835.93" cy="1105.74" r="8.0" fill="#E6D0D8" fill-opacity="0.5" stroke="#000" stroke-width="2.2"/>
<circle cx="1835.93" cy="1095.50" r="8.0" fill="#E6D0D8" fill-opacity="0.5" stroke="#000" stroke-width="2.2"/>
<circle cx="1835.93" cy="990.94" r="8.0" fill="#E6D0D8" fill-opacity="0.5" stroke="#000" stroke-width="2.2"/>
<circle cx="1898.67" cy="1139.11" r="8.0" fill="#CDD1E8" fill-opacity="0.5" stroke="#000" stroke-width="2.2"/>
<circle cx="1898.67" cy="1096.84" r="8.0" fill="#CDD1E8" fill-opacity="0.5" stroke="#000" stroke-width="2.2"/>
<circle cx="1898.67" cy="1013.63" r="8.0" fill="#CDD1E8" fill-opacity="0.5" stroke="#000" stroke-width="2.2"/>
<circle cx="1898.67" cy="1009.18" r="8.0" fill="#CDD1E8" fill-opacity="0.5" stroke="#000" stroke-width="2.2"/>
<circle cx="1898.67" cy="972.25" r="8.0" fill="#CDD1E8" fill-opacity="0.5" stroke="#000" stroke-width="2.2"/>
<circle cx="1898.67" cy="960.23" r="8.0" fill="#CDD1E8" fill-opacity="0.5" stroke="#000" stroke-width="2.2"/>
<circle cx="1898.67" cy="877.92" r="8.0" fill="#CDD1E8" fill-opacity="0.5" stroke="#000" stroke-width="2.2"/>
<text x="1901.17" y="871.19" font-size="47" font-weight="bold" text-anchor="middle" letter-spacing="5.0">*</text>
<text x="1650.44" y="1040.50" font-size="32.5" font-weight="bold" text-anchor="middle" transform="rotate(-90 1650.44 1040.50)">Concentration <tspan font-size="21.4" dy="-10.7">13</tspan><tspan dy="10.7">C  (µM)</tspan></text>
<text x="1861.29" y="1365.30" font-size="39.5" font-weight="bold" text-anchor="middle">Perfusate-</text>
<text x="1861.29" y="1409.80" font-size="39.5" font-weight="bold" text-anchor="middle">Valine</text>
<text x="43.70" y="1459.20" font-size="72" font-weight="bold">g</text>
<rect x="250.82" y="1805.74" width="50.16" height="118.03" fill="#8E4F69" stroke="#000" stroke-width="3.5"/>
<rect x="300.98" y="1821.48" width="49.18" height="102.30" fill="#424B7E" stroke="#000" stroke-width="3.5"/>
<line x1="275.90" y1="1805.74" x2="275.90" y2="1771.31" stroke="#000" stroke-width="3.0"/>
<line x1="268.40" y1="1771.31" x2="283.40" y2="1771.31" stroke="#000" stroke-width="3.0"/>
<line x1="325.57" y1="1821.48" x2="325.57" y2="1788.52" stroke="#000" stroke-width="3.0"/>
<line x1="318.07" y1="1788.52" x2="333.07" y2="1788.52" stroke="#000" stroke-width="3.0"/>
<rect x="449.51" y="1767.38" width="50.16" height="156.39" fill="#8E4F69" stroke="#000" stroke-width="3.5"/>
<rect x="499.67" y="1804.26" width="49.67" height="119.51" fill="#424B7E" stroke="#000" stroke-width="3.5"/>
<line x1="474.59" y1="1767.38" x2="474.59" y2="1715.74" stroke="#000" stroke-width="3.0"/>
<line x1="467.09" y1="1715.74" x2="482.09" y2="1715.74" stroke="#000" stroke-width="3.0"/>
<line x1="524.51" y1="1804.26" x2="524.51" y2="1758.03" stroke="#000" stroke-width="3.0"/>
<line x1="517.01" y1="1758.03" x2="532.01" y2="1758.03" stroke="#000" stroke-width="3.0"/>
<rect x="649.18" y="1886.89" width="50.16" height="36.89" fill="#8E4F69" stroke="#000" stroke-width="3.5"/>
<rect x="699.34" y="1859.34" width="50.16" height="64.43" fill="#424B7E" stroke="#000" stroke-width="3.5"/>
<line x1="674.26" y1="1886.89" x2="674.26" y2="1874.59" stroke="#000" stroke-width="3.0"/>
<line x1="666.76" y1="1874.59" x2="681.76" y2="1874.59" stroke="#000" stroke-width="3.0"/>
<line x1="724.43" y1="1859.34" x2="724.43" y2="1840.16" stroke="#000" stroke-width="3.0"/>
<line x1="716.93" y1="1840.16" x2="731.93" y2="1840.16" stroke="#000" stroke-width="3.0"/>
<line x1="200.16" y1="1471.10" x2="200.16" y2="1932.27" stroke="#000" stroke-width="2.4"/>
<line x1="191.66" y1="1472.30" x2="201.36" y2="1472.30" stroke="#000" stroke-width="2.4"/>
<text x="176.16" y="1482.11" font-size="31" text-anchor="end">2.5</text>
<line x1="191.66" y1="1561.80" x2="201.36" y2="1561.80" stroke="#000" stroke-width="2.4"/>
<text x="176.16" y="1571.62" font-size="31" text-anchor="end">2</text>
<line x1="191.66" y1="1652.79" x2="201.36" y2="1652.79" stroke="#000" stroke-width="2.4"/>
<text x="176.16" y="1662.61" font-size="31" text-anchor="end">1.5</text>
<line x1="191.66" y1="1742.79" x2="201.36" y2="1742.79" stroke="#000" stroke-width="2.4"/>
<text x="176.16" y="1752.61" font-size="31" text-anchor="end">1</text>
<line x1="191.66" y1="1833.28" x2="201.36" y2="1833.28" stroke="#000" stroke-width="2.4"/>
<text x="176.16" y="1843.10" font-size="31" text-anchor="end">0.5</text>
<line x1="191.66" y1="1923.77" x2="201.36" y2="1923.77" stroke="#000" stroke-width="2.4"/>
<text x="176.16" y="1933.59" font-size="31" text-anchor="end">0</text>
<line x1="198.96" y1="1923.77" x2="800.38" y2="1923.77" stroke="#000" stroke-width="2.4"/>
<line x1="200.16" y1="1923.77" x2="200.16" y2="1933.77" stroke="#000" stroke-width="2.4"/>
<line x1="399.34" y1="1923.77" x2="399.34" y2="1933.77" stroke="#000" stroke-width="2.4"/>
<line x1="599.02" y1="1923.77" x2="599.02" y2="1933.77" stroke="#000" stroke-width="2.4"/>
<line x1="799.18" y1="1923.77" x2="799.18" y2="1933.77" stroke="#000" stroke-width="2.4"/>
<circle cx="275.90" cy="1895.74" r="8.3" fill="#E6D0D8" fill-opacity="0.5" stroke="#000" stroke-width="2.2"/>
<circle cx="275.90" cy="1876.07" r="8.3" fill="#E6D0D8" fill-opacity="0.5" stroke="#000" stroke-width="2.2"/>
<circle cx="275.90" cy="1869.67" r="8.3" fill="#E6D0D8" fill-opacity="0.5" stroke="#000" stroke-width="2.2"/>
<circle cx="275.90" cy="1864.75" r="8.3" fill="#E6D0D8" fill-opacity="0.5" stroke="#000" stroke-width="2.2"/>
<circle cx="275.90" cy="1726.56" r="8.3" fill="#E6D0D8" fill-opacity="0.5" stroke="#000" stroke-width="2.2"/>
<circle cx="275.90" cy="1711.31" r="8.3" fill="#E6D0D8" fill-opacity="0.5" stroke="#000" stroke-width="2.2"/>
<circle cx="275.90" cy="1691.64" r="8.3" fill="#E6D0D8" fill-opacity="0.5" stroke="#000" stroke-width="2.2"/>
<circle cx="325.57" cy="1911.48" r="8.3" fill="#CDD1E8" fill-opacity="0.5" stroke="#000" stroke-width="2.2"/>
<circle cx="325.57" cy="1904.10" r="8.3" fill="#CDD1E8" fill-opacity="0.5" stroke="#000" stroke-width="2.2"/>
<circle cx="325.57" cy="1870.66" r="8.3" fill="#CDD1E8" fill-opacity="0.5" stroke="#000" stroke-width="2.2"/>
<circle cx="325.57" cy="1831.31" r="8.3" fill="#CDD1E8" fill-opacity="0.5" stroke="#000" stroke-width="2.2"/>
<circle cx="325.57" cy="1786.07" r="8.3" fill="#CDD1E8" fill-opacity="0.5" stroke="#000" stroke-width="2.2"/>
<circle cx="325.57" cy="1757.05" r="8.3" fill="#CDD1E8" fill-opacity="0.5" stroke="#000" stroke-width="2.2"/>
<circle cx="325.57" cy="1687.70" r="8.3" fill="#CDD1E8" fill-opacity="0.5" stroke="#000" stroke-width="2.2"/>
<circle cx="474.59" cy="1894.75" r="8.3" fill="#E6D0D8" fill-opacity="0.5" stroke="#000" stroke-width="2.2"/>
<circle cx="474.59" cy="1874.59" r="8.3" fill="#E6D0D8" fill-opacity="0.5" stroke="#000" stroke-width="2.2"/>
<circle cx="474.59" cy="1864.75" r="8.3" fill="#E6D0D8" fill-opacity="0.5" stroke="#000" stroke-width="2.2"/>
<circle cx="474.59" cy="1812.62" r="8.3" fill="#E6D0D8" fill-opacity="0.5" stroke="#000" stroke-width="2.2"/>
<circle cx="474.59" cy="1732.95" r="8.3" fill="#E6D0D8" fill-opacity="0.5" stroke="#000" stroke-width="2.2"/>
<circle cx="474.59" cy="1684.26" r="8.3" fill="#E6D0D8" fill-opacity="0.5" stroke="#000" stroke-width="2.2"/>
<circle cx="474.59" cy="1511.15" r="8.3" fill="#E6D0D8" fill-opacity="0.5" stroke="#000" stroke-width="2.2"/>
<circle cx="524.51" cy="1912.95" r="8.3" fill="#CDD1E8" fill-opacity="0.5" stroke="#000" stroke-width="2.2"/>
<circle cx="524.51" cy="1899.18" r="8.3" fill="#CDD1E8" fill-opacity="0.5" stroke="#000" stroke-width="2.2"/>
<circle cx="524.51" cy="1881.97" r="8.3" fill="#CDD1E8" fill-opacity="0.5" stroke="#000" stroke-width="2.2"/>
<circle cx="524.51" cy="1842.62" r="8.3" fill="#CDD1E8" fill-opacity="0.5" stroke="#000" stroke-width="2.2"/>
<circle cx="524.51" cy="1786.07" r="8.3" fill="#CDD1E8" fill-opacity="0.5" stroke="#000" stroke-width="2.2"/>
<circle cx="524.51" cy="1732.46" r="8.3" fill="#CDD1E8" fill-opacity="0.5" stroke="#000" stroke-width="2.2"/>
<circle cx="524.51" cy="1571.15" r="8.3" fill="#CDD1E8" fill-opacity="0.5" stroke="#000" stroke-width="2.2"/>
<circle cx="674.26" cy="1918.85" r="8.3" fill="#E6D0D8" fill-opacity="0.5" stroke="#000" stroke-width="2.2"/>
<circle cx="674.26" cy="1909.02" r="8.3" fill="#E6D0D8" fill-opacity="0.5" stroke="#000" stroke-width="2.2"/>
<circle cx="674.26" cy="1901.64" r="8.3" fill="#E6D0D8" fill-opacity="0.5" stroke="#000" stroke-width="2.2"/>
<circle cx="674.26" cy="1894.26" r="8.3" fill="#E6D0D8" fill-opacity="0.5" stroke="#000" stroke-width="2.2"/>
<circle cx="674.26" cy="1874.59" r="8.3" fill="#E6D0D8" fill-opacity="0.5" stroke="#000" stroke-width="2.2"/>
<circle cx="674.26" cy="1862.79" r="8.3" fill="#E6D0D8" fill-opacity="0.5" stroke="#000" stroke-width="2.2"/>
<circle cx="674.26" cy="1847.05" r="8.3" fill="#E6D0D8" fill-opacity="0.5" stroke="#000" stroke-width="2.2"/>
<circle cx="724.43" cy="1901.64" r="8.3" fill="#CDD1E8" fill-opacity="0.5" stroke="#000" stroke-width="2.2"/>
<circle cx="724.43" cy="1895.74" r="8.3" fill="#CDD1E8" fill-opacity="0.5" stroke="#000" stroke-width="2.2"/>
<circle cx="724.43" cy="1886.89" r="8.3" fill="#CDD1E8" fill-opacity="0.5" stroke="#000" stroke-width="2.2"/>
<circle cx="724.43" cy="1874.59" r="8.3" fill="#CDD1E8" fill-opacity="0.5" stroke="#000" stroke-width="2.2"/>
<circle cx="724.43" cy="1867.21" r="8.3" fill="#CDD1E8" fill-opacity="0.5" stroke="#000" stroke-width="2.2"/>
<circle cx="724.43" cy="1843.61" r="8.3" fill="#CDD1E8" fill-opacity="0.5" stroke="#000" stroke-width="2.2"/>
<circle cx="724.43" cy="1750.66" r="8.3" fill="#CDD1E8" fill-opacity="0.5" stroke="#000" stroke-width="2.2"/>
<text x="114.32" y="1698.52" font-size="39" font-weight="bold" text-anchor="middle" transform="rotate(-90 114.32 1698.52)">Concentration <tspan font-size="25.7" dy="-12.9">13</tspan><tspan dy="12.9">C (µM)</tspan></text>
<text x="300.98" y="1983.99" font-size="39" font-weight="bold" text-anchor="middle">3-HIB</text>
<text x="499.18" y="1983.99" font-size="39" font-weight="bold" text-anchor="middle">Citrate</text>
<text x="699.34" y="1983.99" font-size="39" font-weight="bold" text-anchor="middle">Succinate</text>
<text x="58.90" y="2014.80" font-size="72" font-weight="bold">i</text>
<text x="851.60" y="1458.20" font-size="72" font-weight="bold">h</text>
<rect x="992.56" y="1832.71" width="28.01" height="72.23" fill="#8E4F69" stroke="#000" stroke-width="3.2"/>
<rect x="1020.58" y="1672.05" width="28.01" height="232.90" fill="#424B7E" stroke="#000" stroke-width="3.2"/>
<line x1="1006.57" y1="1832.71" x2="1006.57" y2="1823.94" stroke="#000" stroke-width="2.4"/>
<line x1="1000.07" y1="1823.94" x2="1013.07" y2="1823.94" stroke="#000" stroke-width="2.4"/>
<line x1="1034.59" y1="1672.05" x2="1034.59" y2="1634.25" stroke="#000" stroke-width="2.4"/>
<line x1="1028.09" y1="1634.25" x2="1041.09" y2="1634.25" stroke="#000" stroke-width="2.4"/>
<rect x="1102.94" y="1832.71" width="28.01" height="72.23" fill="#8E4F69" stroke="#000" stroke-width="3.2"/>
<rect x="1130.95" y="1824.61" width="28.01" height="80.33" fill="#424B7E" stroke="#000" stroke-width="3.2"/>
<line x1="1116.94" y1="1832.71" x2="1116.94" y2="1823.94" stroke="#000" stroke-width="2.4"/>
<line x1="1110.44" y1="1823.94" x2="1123.44" y2="1823.94" stroke="#000" stroke-width="2.4"/>
<line x1="1144.96" y1="1824.61" x2="1144.96" y2="1811.11" stroke="#000" stroke-width="2.4"/>
<line x1="1138.46" y1="1811.11" x2="1151.46" y2="1811.11" stroke="#000" stroke-width="2.4"/>
<rect x="1213.31" y="1832.71" width="28.01" height="72.23" fill="#8E4F69" stroke="#000" stroke-width="3.2"/>
<rect x="1241.32" y="1838.79" width="28.01" height="66.16" fill="#424B7E" stroke="#000" stroke-width="3.2"/>
<line x1="1227.31" y1="1832.71" x2="1227.31" y2="1817.19" stroke="#000" stroke-width="2.4"/>
<line x1="1220.81" y1="1817.19" x2="1233.81" y2="1817.19" stroke="#000" stroke-width="2.4"/>
<line x1="1255.33" y1="1838.79" x2="1255.33" y2="1832.04" stroke="#000" stroke-width="2.4"/>
<line x1="1248.83" y1="1832.04" x2="1261.83" y2="1832.04" stroke="#000" stroke-width="2.4"/>
<rect x="1323.68" y="1832.71" width="28.01" height="72.23" fill="#8E4F69" stroke="#000" stroke-width="3.2"/>
<rect x="1351.69" y="1819.89" width="28.01" height="85.06" fill="#424B7E" stroke="#000" stroke-width="3.2"/>
<line x1="1337.69" y1="1832.71" x2="1337.69" y2="1813.14" stroke="#000" stroke-width="2.4"/>
<line x1="1331.19" y1="1813.14" x2="1344.19" y2="1813.14" stroke="#000" stroke-width="2.4"/>
<line x1="1365.70" y1="1819.89" x2="1365.70" y2="1803.69" stroke="#000" stroke-width="2.4"/>
<line x1="1359.20" y1="1803.69" x2="1372.20" y2="1803.69" stroke="#000" stroke-width="2.4"/>
<rect x="1434.05" y="1832.71" width="28.01" height="72.23" fill="#8E4F69" stroke="#000" stroke-width="3.2"/>
<rect x="1462.07" y="1819.21" width="28.01" height="85.73" fill="#424B7E" stroke="#000" stroke-width="3.2"/>
<line x1="1448.06" y1="1832.71" x2="1448.06" y2="1819.89" stroke="#000" stroke-width="2.4"/>
<line x1="1441.56" y1="1819.89" x2="1454.56" y2="1819.89" stroke="#000" stroke-width="2.4"/>
<line x1="1476.07" y1="1819.21" x2="1476.07" y2="1806.39" stroke="#000" stroke-width="2.4"/>
<line x1="1469.57" y1="1806.39" x2="1482.57" y2="1806.39" stroke="#000" stroke-width="2.4"/>
<rect x="1544.42" y="1832.71" width="28.01" height="72.23" fill="#8E4F69" stroke="#000" stroke-width="3.2"/>
<rect x="1572.44" y="1850.94" width="28.01" height="54.00" fill="#424B7E" stroke="#000" stroke-width="3.2"/>
<line x1="1558.43" y1="1832.71" x2="1558.43" y2="1825.29" stroke="#000" stroke-width="2.4"/>
<line x1="1551.93" y1="1825.29" x2="1564.93" y2="1825.29" stroke="#000" stroke-width="2.4"/>
<line x1="1586.45" y1="1850.94" x2="1586.45" y2="1845.54" stroke="#000" stroke-width="2.4"/>
<line x1="1579.95" y1="1845.54" x2="1592.95" y2="1845.54" stroke="#000" stroke-width="2.4"/>
<rect x="1654.80" y="1832.71" width="28.01" height="72.23" fill="#8E4F69" stroke="#000" stroke-width="3.2"/>
<rect x="1682.81" y="1820.56" width="28.01" height="84.38" fill="#424B7E" stroke="#000" stroke-width="3.2"/>
<line x1="1668.80" y1="1832.71" x2="1668.80" y2="1829.34" stroke="#000" stroke-width="2.4"/>
<line x1="1662.30" y1="1829.34" x2="1675.30" y2="1829.34" stroke="#000" stroke-width="2.4"/>
<line x1="1696.82" y1="1820.56" x2="1696.82" y2="1814.49" stroke="#000" stroke-width="2.4"/>
<line x1="1690.32" y1="1814.49" x2="1703.32" y2="1814.49" stroke="#000" stroke-width="2.4"/>
<rect x="1765.17" y="1832.71" width="28.01" height="72.23" fill="#8E4F69" stroke="#000" stroke-width="3.2"/>
<rect x="1793.18" y="1884.02" width="28.01" height="20.93" fill="#424B7E" stroke="#000" stroke-width="3.2"/>
<line x1="1779.18" y1="1832.71" x2="1779.18" y2="1809.09" stroke="#000" stroke-width="2.4"/>
<line x1="1772.68" y1="1809.09" x2="1785.68" y2="1809.09" stroke="#000" stroke-width="2.4"/>
<line x1="1807.19" y1="1884.02" x2="1807.19" y2="1872.54" stroke="#000" stroke-width="2.4"/>
<line x1="1800.69" y1="1872.54" x2="1813.69" y2="1872.54" stroke="#000" stroke-width="2.4"/>
<rect x="1875.54" y="1832.71" width="28.01" height="72.23" fill="#8E4F69" stroke="#000" stroke-width="3.2"/>
<rect x="1903.55" y="1805.04" width="28.01" height="99.91" fill="#424B7E" stroke="#000" stroke-width="3.2"/>
<line x1="1889.55" y1="1832.71" x2="1889.55" y2="1813.14" stroke="#000" stroke-width="2.4"/>
<line x1="1883.05" y1="1813.14" x2="1896.05" y2="1813.14" stroke="#000" stroke-width="2.4"/>
<line x1="1917.56" y1="1805.04" x2="1917.56" y2="1782.08" stroke="#000" stroke-width="2.4"/>
<line x1="1911.06" y1="1782.08" x2="1924.06" y2="1782.08" stroke="#000" stroke-width="2.4"/>
<line x1="965.56" y1="1470.36" x2="965.56" y2="1913.44" stroke="#000" stroke-width="2.4"/>
<line x1="957.06" y1="1471.56" x2="966.76" y2="1471.56" stroke="#000" stroke-width="2.4"/>
<text x="939.86" y="1480.70" font-size="30.5" text-anchor="end">6</text>
<line x1="957.06" y1="1543.79" x2="966.76" y2="1543.79" stroke="#000" stroke-width="2.4"/>
<text x="939.86" y="1552.93" font-size="30.5" text-anchor="end">5</text>
<line x1="957.06" y1="1616.02" x2="966.76" y2="1616.02" stroke="#000" stroke-width="2.4"/>
<text x="939.86" y="1625.16" font-size="30.5" text-anchor="end">4</text>
<line x1="957.06" y1="1688.25" x2="966.76" y2="1688.25" stroke="#000" stroke-width="2.4"/>
<text x="939.86" y="1697.39" font-size="30.5" text-anchor="end">3</text>
<line x1="957.06" y1="1760.48" x2="966.76" y2="1760.48" stroke="#000" stroke-width="2.4"/>
<text x="939.86" y="1769.63" font-size="30.5" text-anchor="end">2</text>
<line x1="957.06" y1="1832.71" x2="966.76" y2="1832.71" stroke="#000" stroke-width="2.4"/>
<text x="939.86" y="1841.86" font-size="30.5" text-anchor="end">1</text>
<line x1="957.06" y1="1904.94" x2="966.76" y2="1904.94" stroke="#000" stroke-width="2.4"/>
<text x="939.86" y="1914.09" font-size="30.5" text-anchor="end">0</text>
<line x1="964.36" y1="1904.94" x2="1960.11" y2="1904.94" stroke="#000" stroke-width="2.4"/>
<line x1="965.56" y1="1904.94" x2="965.56" y2="1913.44" stroke="#000" stroke-width="2.4"/>
<line x1="1075.93" y1="1904.94" x2="1075.93" y2="1913.44" stroke="#000" stroke-width="2.4"/>
<line x1="1186.31" y1="1904.94" x2="1186.31" y2="1913.44" stroke="#000" stroke-width="2.4"/>
<line x1="1296.68" y1="1904.94" x2="1296.68" y2="1913.44" stroke="#000" stroke-width="2.4"/>
<line x1="1407.05" y1="1904.94" x2="1407.05" y2="1913.44" stroke="#000" stroke-width="2.4"/>
<line x1="1517.42" y1="1904.94" x2="1517.42" y2="1913.44" stroke="#000" stroke-width="2.4"/>
<line x1="1627.79" y1="1904.94" x2="1627.79" y2="1913.44" stroke="#000" stroke-width="2.4"/>
<line x1="1738.17" y1="1904.94" x2="1738.17" y2="1913.44" stroke="#000" stroke-width="2.4"/>
<line x1="1848.54" y1="1904.94" x2="1848.54" y2="1913.44" stroke="#000" stroke-width="2.4"/>
<line x1="1958.91" y1="1904.94" x2="1958.91" y2="1913.44" stroke="#000" stroke-width="2.4"/>
<circle cx="1006.27" cy="1870.52" r="7.6" fill="#E6D0D8" fill-opacity="0.5" stroke="#000" stroke-width="2.2"/>
<circle cx="1006.27" cy="1845.54" r="7.6" fill="#E6D0D8" fill-opacity="0.5" stroke="#000" stroke-width="2.2"/>
<circle cx="1006.27" cy="1838.79" r="7.6" fill="#E6D0D8" fill-opacity="0.5" stroke="#000" stroke-width="2.2"/>
<circle cx="1006.27" cy="1830.01" r="7.6" fill="#E6D0D8" fill-opacity="0.5" stroke="#000" stroke-width="2.2"/>
<circle cx="1006.27" cy="1812.46" r="7.6" fill="#E6D0D8" fill-opacity="0.5" stroke="#000" stroke-width="2.2"/>
<circle cx="1006.27" cy="1790.86" r="7.6" fill="#E6D0D8" fill-opacity="0.5" stroke="#000" stroke-width="2.2"/>
<circle cx="1034.89" cy="1767.91" r="7.6" fill="#CDD1E8" fill-opacity="0.5" stroke="#000" stroke-width="2.2"/>
<circle cx="1034.89" cy="1710.53" r="7.6" fill="#CDD1E8" fill-opacity="0.5" stroke="#000" stroke-width="2.2"/>
<circle cx="1034.89" cy="1697.03" r="7.6" fill="#CDD1E8" fill-opacity="0.5" stroke="#000" stroke-width="2.2"/>
<circle cx="1034.89" cy="1682.17" r="7.6" fill="#CDD1E8" fill-opacity="0.5" stroke="#000" stroke-width="2.2"/>
<circle cx="1034.89" cy="1674.75" r="7.6" fill="#CDD1E8" fill-opacity="0.5" stroke="#000" stroke-width="2.2"/>
<circle cx="1034.89" cy="1495.86" r="7.6" fill="#CDD1E8" fill-opacity="0.5" stroke="#000" stroke-width="2.2"/>
<circle cx="1116.64" cy="1869.84" r="7.6" fill="#E6D0D8" fill-opacity="0.5" stroke="#000" stroke-width="2.2"/>
<circle cx="1116.64" cy="1860.39" r="7.6" fill="#E6D0D8" fill-opacity="0.5" stroke="#000" stroke-width="2.2"/>
<circle cx="1116.64" cy="1827.31" r="7.6" fill="#E6D0D8" fill-opacity="0.5" stroke="#000" stroke-width="2.2"/>
<circle cx="1116.64" cy="1823.94" r="7.6" fill="#E6D0D8" fill-opacity="0.5" stroke="#000" stroke-width="2.2"/>
<circle cx="1116.64" cy="1813.81" r="7.6" fill="#E6D0D8" fill-opacity="0.5" stroke="#000" stroke-width="2.2"/>
<circle cx="1116.64" cy="1810.44" r="7.6" fill="#E6D0D8" fill-opacity="0.5" stroke="#000" stroke-width="2.2"/>
<circle cx="1145.26" cy="1853.64" r="7.6" fill="#CDD1E8" fill-opacity="0.5" stroke="#000" stroke-width="2.2"/>
<circle cx="1145.26" cy="1845.54" r="7.6" fill="#CDD1E8" fill-opacity="0.5" stroke="#000" stroke-width="2.2"/>
<circle cx="1145.26" cy="1832.04" r="7.6" fill="#CDD1E8" fill-opacity="0.5" stroke="#000" stroke-width="2.2"/>
<circle cx="1145.26" cy="1793.56" r="7.6" fill="#CDD1E8" fill-opacity="0.5" stroke="#000" stroke-width="2.2"/>
<circle cx="1145.26" cy="1772.63" r="7.6" fill="#CDD1E8" fill-opacity="0.5" stroke="#000" stroke-width="2.2"/>
<circle cx="1227.01" cy="1891.44" r="7.6" fill="#E6D0D8" fill-opacity="0.5" stroke="#000" stroke-width="2.2"/>
<circle cx="1227.01" cy="1859.04" r="7.6" fill="#E6D0D8" fill-opacity="0.5" stroke="#000" stroke-width="2.2"/>
<circle cx="1227.01" cy="1852.29" r="7.6" fill="#E6D0D8" fill-opacity="0.5" stroke="#000" stroke-width="2.2"/>
<circle cx="1227.01" cy="1845.54" r="7.6" fill="#E6D0D8" fill-opacity="0.5" stroke="#000" stroke-width="2.2"/>
<circle cx="1227.01" cy="1816.51" r="7.6" fill="#E6D0D8" fill-opacity="0.5" stroke="#000" stroke-width="2.2"/>
<circle cx="1227.01" cy="1787.48" r="7.6" fill="#E6D0D8" fill-opacity="0.5" stroke="#000" stroke-width="2.2"/>
<circle cx="1227.01" cy="1780.06" r="7.6" fill="#E6D0D8" fill-opacity="0.5" stroke="#000" stroke-width="2.2"/>
<circle cx="1255.63" cy="1862.42" r="7.6" fill="#CDD1E8" fill-opacity="0.5" stroke="#000" stroke-width="2.2"/>
<circle cx="1255.63" cy="1853.64" r="7.6" fill="#CDD1E8" fill-opacity="0.5" stroke="#000" stroke-width="2.2"/>
<circle cx="1255.63" cy="1845.54" r="7.6" fill="#CDD1E8" fill-opacity="0.5" stroke="#000" stroke-width="2.2"/>
<circle cx="1255.63" cy="1835.41" r="7.6" fill="#CDD1E8" fill-opacity="0.5" stroke="#000" stroke-width="2.2"/>
<circle cx="1255.63" cy="1818.54" r="7.6" fill="#CDD1E8" fill-opacity="0.5" stroke="#000" stroke-width="2.2"/>
<circle cx="1255.63" cy="1813.81" r="7.6" fill="#CDD1E8" fill-opacity="0.5" stroke="#000" stroke-width="2.2"/>
<circle cx="1337.39" cy="1901.57" r="7.6" fill="#E6D0D8" fill-opacity="0.5" stroke="#000" stroke-width="2.2"/>
<circle cx="1337.39" cy="1860.39" r="7.6" fill="#E6D0D8" fill-opacity="0.5" stroke="#000" stroke-width="2.2"/>
<circle cx="1337.39" cy="1832.04" r="7.6" fill="#E6D0D8" fill-opacity="0.5" stroke="#000" stroke-width="2.2"/>
<circle cx="1337.39" cy="1823.94" r="7.6" fill="#E6D0D8" fill-opacity="0.5" stroke="#000" stroke-width="2.2"/>
<circle cx="1337.39" cy="1809.76" r="7.6" fill="#E6D0D8" fill-opacity="0.5" stroke="#000" stroke-width="2.2"/>
<circle cx="1337.39" cy="1800.98" r="7.6" fill="#E6D0D8" fill-opacity="0.5" stroke="#000" stroke-width="2.2"/>
<circle cx="1337.39" cy="1797.61" r="7.6" fill="#E6D0D8" fill-opacity="0.5" stroke="#000" stroke-width="2.2"/>
<circle cx="1366.00" cy="1846.89" r="7.6" fill="#CDD1E8" fill-opacity="0.5" stroke="#000" stroke-width="2.2"/>
<circle cx="1366.00" cy="1842.16" r="7.6" fill="#CDD1E8" fill-opacity="0.5" stroke="#000" stroke-width="2.2"/>
<circle cx="1366.00" cy="1828.66" r="7.6" fill="#CDD1E8" fill-opacity="0.5" stroke="#000" stroke-width="2.2"/>
<circle cx="1366.00" cy="1813.81" r="7.6" fill="#CDD1E8" fill-opacity="0.5" stroke="#000" stroke-width="2.2"/>
<circle cx="1366.00" cy="1743.60" r="7.6" fill="#CDD1E8" fill-opacity="0.5" stroke="#000" stroke-width="2.2"/>
<circle cx="1447.76" cy="1866.47" r="7.6" fill="#E6D0D8" fill-opacity="0.5" stroke="#000" stroke-width="2.2"/>
<circle cx="1447.76" cy="1862.42" r="7.6" fill="#E6D0D8" fill-opacity="0.5" stroke="#000" stroke-width="2.2"/>
<circle cx="1447.76" cy="1845.54" r="7.6" fill="#E6D0D8" fill-opacity="0.5" stroke="#000" stroke-width="2.2"/>
<circle cx="1447.76" cy="1832.04" r="7.6" fill="#E6D0D8" fill-opacity="0.5" stroke="#000" stroke-width="2.2"/>
<circle cx="1447.76" cy="1821.91" r="7.6" fill="#E6D0D8" fill-opacity="0.5" stroke="#000" stroke-width="2.2"/>
<circle cx="1447.76" cy="1817.19" r="7.6" fill="#E6D0D8" fill-opacity="0.5" stroke="#000" stroke-width="2.2"/>
<circle cx="1447.76" cy="1778.03" r="7.6" fill="#E6D0D8" fill-opacity="0.5" stroke="#000" stroke-width="2.2"/>
<circle cx="1476.37" cy="1864.44" r="7.6" fill="#CDD1E8" fill-opacity="0.5" stroke="#000" stroke-width="2.2"/>
<circle cx="1476.37" cy="1832.04" r="7.6" fill="#CDD1E8" fill-opacity="0.5" stroke="#000" stroke-width="2.2"/>
<circle cx="1476.37" cy="1828.66" r="7.6" fill="#CDD1E8" fill-opacity="0.5" stroke="#000" stroke-width="2.2"/>
<circle cx="1476.37" cy="1817.19" r="7.6" fill="#CDD1E8" fill-opacity="0.5" stroke="#000" stroke-width="2.2"/>
<circle cx="1476.37" cy="1809.76" r="7.6" fill="#CDD1E8" fill-opacity="0.5" stroke="#000" stroke-width="2.2"/>
<circle cx="1476.37" cy="1763.18" r="7.6" fill="#CDD1E8" fill-opacity="0.5" stroke="#000" stroke-width="2.2"/>
<circle cx="1558.13" cy="1849.59" r="7.6" fill="#E6D0D8" fill-opacity="0.5" stroke="#000" stroke-width="2.2"/>
<circle cx="1558.13" cy="1845.54" r="7.6" fill="#E6D0D8" fill-opacity="0.5" stroke="#000" stroke-width="2.2"/>
<circle cx="1558.13" cy="1838.79" r="7.6" fill="#E6D0D8" fill-opacity="0.5" stroke="#000" stroke-width="2.2"/>
<circle cx="1558.13" cy="1834.06" r="7.6" fill="#E6D0D8" fill-opacity="0.5" stroke="#000" stroke-width="2.2"/>
<circle cx="1558.13" cy="1821.91" r="7.6" fill="#E6D0D8" fill-opacity="0.5" stroke="#000" stroke-width="2.2"/>
<circle cx="1558.13" cy="1809.76" r="7.6" fill="#E6D0D8" fill-opacity="0.5" stroke="#000" stroke-width="2.2"/>
<circle cx="1586.75" cy="1863.77" r="7.6" fill="#CDD1E8" fill-opacity="0.5" stroke="#000" stroke-width="2.2"/>
<circle cx="1586.75" cy="1848.24" r="7.6" fill="#CDD1E8" fill-opacity="0.5" stroke="#000" stroke-width="2.2"/>
<circle cx="1586.75" cy="1845.54" r="7.6" fill="#CDD1E8" fill-opacity="0.5" stroke="#000" stroke-width="2.2"/>
<circle cx="1586.75" cy="1843.51" r="7.6" fill="#CDD1E8" fill-opacity="0.5" stroke="#000" stroke-width="2.2"/>
<circle cx="1668.50" cy="1843.51" r="7.6" fill="#E6D0D8" fill-opacity="0.5" stroke="#000" stroke-width="2.2"/>
<circle cx="1668.50" cy="1838.79" r="7.6" fill="#E6D0D8" fill-opacity="0.5" stroke="#000" stroke-width="2.2"/>
<circle cx="1668.50" cy="1832.04" r="7.6" fill="#E6D0D8" fill-opacity="0.5" stroke="#000" stroke-width="2.2"/>
<circle cx="1668.50" cy="1813.81" r="7.6" fill="#E6D0D8" fill-opacity="0.5" stroke="#000" stroke-width="2.2"/>
<circle cx="1697.12" cy="1828.66" r="7.6" fill="#CDD1E8" fill-opacity="0.5" stroke="#000" stroke-width="2.2"/>
<circle cx="1697.12" cy="1825.29" r="7.6" fill="#CDD1E8" fill-opacity="0.5" stroke="#000" stroke-width="2.2"/>
<circle cx="1697.12" cy="1821.91" r="7.6" fill="#CDD1E8" fill-opacity="0.5" stroke="#000" stroke-width="2.2"/>
<circle cx="1697.12" cy="1815.16" r="7.6" fill="#CDD1E8" fill-opacity="0.5" stroke="#000" stroke-width="2.2"/>
<circle cx="1697.12" cy="1806.39" r="7.6" fill="#CDD1E8" fill-opacity="0.5" stroke="#000" stroke-width="2.2"/>
<circle cx="1778.88" cy="1900.89" r="7.6" fill="#E6D0D8" fill-opacity="0.5" stroke="#000" stroke-width="2.2"/>
<circle cx="1778.88" cy="1880.64" r="7.6" fill="#E6D0D8" fill-opacity="0.5" stroke="#000" stroke-width="2.2"/>
<circle cx="1778.88" cy="1865.79" r="7.6" fill="#E6D0D8" fill-opacity="0.5" stroke="#000" stroke-width="2.2"/>
<circle cx="1778.88" cy="1829.34" r="7.6" fill="#E6D0D8" fill-opacity="0.5" stroke="#000" stroke-width="2.2"/>
<circle cx="1778.88" cy="1787.48" r="7.6" fill="#E6D0D8" fill-opacity="0.5" stroke="#000" stroke-width="2.2"/>
<circle cx="1778.88" cy="1718.63" r="7.6" fill="#E6D0D8" fill-opacity="0.5" stroke="#000" stroke-width="2.2"/>
<circle cx="1807.49" cy="1896.17" r="7.6" fill="#CDD1E8" fill-opacity="0.5" stroke="#000" stroke-width="2.2"/>
<circle cx="1807.49" cy="1889.42" r="7.6" fill="#CDD1E8" fill-opacity="0.5" stroke="#000" stroke-width="2.2"/>
<circle cx="1807.49" cy="1880.64" r="7.6" fill="#CDD1E8" fill-opacity="0.5" stroke="#000" stroke-width="2.2"/>
<circle cx="1807.49" cy="1875.92" r="7.6" fill="#CDD1E8" fill-opacity="0.5" stroke="#000" stroke-width="2.2"/>
<circle cx="1807.49" cy="1859.04" r="7.6" fill="#CDD1E8" fill-opacity="0.5" stroke="#000" stroke-width="2.2"/>
<circle cx="1889.25" cy="1877.94" r="7.6" fill="#E6D0D8" fill-opacity="0.5" stroke="#000" stroke-width="2.2"/>
<circle cx="1889.25" cy="1872.54" r="7.6" fill="#E6D0D8" fill-opacity="0.5" stroke="#000" stroke-width="2.2"/>
<circle cx="1889.25" cy="1863.77" r="7.6" fill="#E6D0D8" fill-opacity="0.5" stroke="#000" stroke-width="2.2"/>
<circle cx="1889.25" cy="1852.29" r="7.6" fill="#E6D0D8" fill-opacity="0.5" stroke="#000" stroke-width="2.2"/>
<circle cx="1889.25" cy="1842.16" r="7.6" fill="#E6D0D8" fill-opacity="0.5" stroke="#000" stroke-width="2.2"/>
<circle cx="1889.25" cy="1760.48" r="7.6" fill="#E6D0D8" fill-opacity="0.5" stroke="#000" stroke-width="2.2"/>
<circle cx="1889.25" cy="1757.11" r="7.6" fill="#E6D0D8" fill-opacity="0.5" stroke="#000" stroke-width="2.2"/>
<circle cx="1917.86" cy="1881.32" r="7.6" fill="#CDD1E8" fill-opacity="0.5" stroke="#000" stroke-width="2.2"/>
<circle cx="1917.86" cy="1832.04" r="7.6" fill="#CDD1E8" fill-opacity="0.5" stroke="#000" stroke-width="2.2"/>
<circle cx="1917.86" cy="1826.64" r="7.6" fill="#CDD1E8" fill-opacity="0.5" stroke="#000" stroke-width="2.2"/>
<circle cx="1917.86" cy="1805.04" r="7.6" fill="#CDD1E8" fill-opacity="0.5" stroke="#000" stroke-width="2.2"/>
<circle cx="1917.86" cy="1766.56" r="7.6" fill="#CDD1E8" fill-opacity="0.5" stroke="#000" stroke-width="2.2"/>
<circle cx="1917.86" cy="1717.95" r="7.6" fill="#CDD1E8" fill-opacity="0.5" stroke="#000" stroke-width="2.2"/>
<text x="1036.79" y="1489.60" font-size="47" font-weight="bold" text-anchor="middle" letter-spacing="5.0">***</text>
<text x="1588.44" y="1802.30" font-size="47" font-weight="bold" text-anchor="middle" letter-spacing="5.0">*</text>
<text x="1699.15" y="1802.30" font-size="47" font-weight="bold" text-anchor="middle" letter-spacing="5.0">*</text>
<text x="905.85" y="1688.25" font-size="32.5" font-weight="bold" text-anchor="middle" transform="rotate(-90 905.85 1688.25)">Relative Expression</text>
<text x="1029.25" y="1938.80" font-size="30.2" font-weight="bold" font-style="italic" text-anchor="end" transform="rotate(-45 1029.25 1938.80)">Slc7a5</text>
<text x="1139.62" y="1938.80" font-size="30.2" font-weight="bold" font-style="italic" text-anchor="end" transform="rotate(-45 1139.62 1938.80)">Slc7a8</text>
<text x="1249.99" y="1938.80" font-size="30.2" font-weight="bold" font-style="italic" text-anchor="end" transform="rotate(-45 1249.99 1938.80)">Slc43a1</text>
<text x="1360.36" y="1938.80" font-size="30.2" font-weight="bold" font-style="italic" text-anchor="end" transform="rotate(-45 1360.36 1938.80)">Slc43a2</text>
<text x="1470.74" y="1938.80" font-size="30.2" font-weight="bold" font-style="italic" text-anchor="end" transform="rotate(-45 1470.74 1938.80)">Slc7a7</text>
<text x="1581.11" y="1938.80" font-size="30.2" font-weight="bold" font-style="italic" text-anchor="end" transform="rotate(-45 1581.11 1938.80)">Slc7a6</text>
<text x="1691.48" y="1938.80" font-size="30.2" font-weight="bold" font-style="italic" text-anchor="end" transform="rotate(-45 1691.48 1938.80)">Slc3a2</text>
<text x="1801.85" y="1938.80" font-size="30.2" font-weight="bold" font-style="italic" text-anchor="end" transform="rotate(-45 1801.85 1938.80)">Slc7a10</text>
<text x="1912.22" y="1938.80" font-size="30.2" font-weight="bold" font-style="italic" text-anchor="end" transform="rotate(-45 1912.22 1938.80)">Slc3a1</text>
<line x1="123.54" y1="2062.57" x2="123.54" y2="2437.73" stroke="#000" stroke-width="2.3"/>
<line x1="116.04" y1="2430.23" x2="481.83" y2="2430.23" stroke="#000" stroke-width="2.3"/>
<text x="123.54" y="2470.23" font-size="28" text-anchor="middle">1.0</text>
<line x1="302.11" y1="2430.23" x2="302.11" y2="2437.73" stroke="#000" stroke-width="2.3"/>
<text x="302.11" y="2470.23" font-size="28" text-anchor="middle">2.0</text>
<line x1="480.68" y1="2430.23" x2="480.68" y2="2437.73" stroke="#000" stroke-width="2.3"/>
<text x="480.68" y="2470.23" font-size="28" text-anchor="middle">3.0</text>
<line x1="116.04" y1="2063.72" x2="123.54" y2="2063.72" stroke="#000" stroke-width="2.3"/>
<text x="103.04" y="2071.90" font-size="28" text-anchor="end">1.2</text>
<line x1="116.04" y1="2124.03" x2="123.54" y2="2124.03" stroke="#000" stroke-width="2.3"/>
<text x="103.04" y="2132.20" font-size="28" text-anchor="end">1.0</text>
<line x1="116.04" y1="2185.50" x2="123.54" y2="2185.50" stroke="#000" stroke-width="2.3"/>
<text x="103.04" y="2193.68" font-size="28" text-anchor="end">0.8</text>
<line x1="116.04" y1="2246.98" x2="123.54" y2="2246.98" stroke="#000" stroke-width="2.3"/>
<text x="103.04" y="2255.15" font-size="28" text-anchor="end">0.6</text>
<line x1="116.04" y1="2307.87" x2="123.54" y2="2307.87" stroke="#000" stroke-width="2.3"/>
<text x="103.04" y="2316.04" font-size="28" text-anchor="end">0.4</text>
<line x1="116.04" y1="2368.76" x2="123.54" y2="2368.76" stroke="#000" stroke-width="2.3"/>
<text x="103.04" y="2376.93" font-size="28" text-anchor="end">0.2</text>
<text x="103.04" y="2438.41" font-size="28" text-anchor="end">0.0</text>
<circle cx="454.92" cy="2101.19" r="8.9" fill="#E03A3C"/>
<circle cx="403.98" cy="2162.08" r="8.9" fill="#E03A3C"/>
<circle cx="266.98" cy="2237.61" r="8.9" fill="#E03A3C"/>
<circle cx="250.00" cy="2239.95" r="8.9" fill="#E03A3C"/>
<circle cx="212.53" cy="2279.18" r="8.9" fill="#E03A3C"/>
<circle cx="202.58" cy="2276.84" r="8.9" fill="#E03A3C"/>
<line x1="202.58" y1="2279.18" x2="453.75" y2="2113.49" stroke="#444" stroke-width="4.7" stroke-linecap="round" stroke-dasharray="0.01 9.6"/>
<text x="322.01" y="2069.58" font-size="32.5" font-weight="bold" text-anchor="middle">Heart</text>
<text x="151.05" y="2378.13" font-size="26.6">R<tspan font-size="15.5" dy="-9">2</tspan><tspan dy="9">=0.98</tspan></text>
<text x="151.05" y="2407.63" font-size="26.6" fill="#FF0000"><tspan font-style="italic">P</tspan>=1.5e<tspan font-size="15.5" dy="-9">4</tspan></text>
<text x="46.13" y="2246.39" font-size="32.5" font-weight="bold" font-style="italic" text-anchor="middle" transform="rotate(-90 46.13 2246.39)">Slc25a44</text>
<text x="302.69" y="2512.79" font-size="32.5" font-weight="bold" font-style="italic" text-anchor="middle">Slc7a5</text>
<line x1="620.61" y1="2062.57" x2="620.61" y2="2437.73" stroke="#000" stroke-width="2.3"/>
<line x1="613.11" y1="2430.23" x2="978.90" y2="2430.23" stroke="#000" stroke-width="2.3"/>
<text x="620.61" y="2470.23" font-size="28" text-anchor="middle">1.0</text>
<line x1="799.18" y1="2430.23" x2="799.18" y2="2437.73" stroke="#000" stroke-width="2.3"/>
<text x="799.18" y="2470.23" font-size="28" text-anchor="middle">2.0</text>
<line x1="977.75" y1="2430.23" x2="977.75" y2="2437.73" stroke="#000" stroke-width="2.3"/>
<text x="977.75" y="2470.23" font-size="28" text-anchor="middle">3.0</text>
<line x1="613.11" y1="2063.72" x2="620.61" y2="2063.72" stroke="#000" stroke-width="2.3"/>
<text x="600.11" y="2071.90" font-size="28" text-anchor="end">3.5</text>
<line x1="613.11" y1="2115.25" x2="620.61" y2="2115.25" stroke="#000" stroke-width="2.3"/>
<text x="600.11" y="2123.42" font-size="28" text-anchor="end">3.0</text>
<line x1="613.11" y1="2167.94" x2="620.61" y2="2167.94" stroke="#000" stroke-width="2.3"/>
<text x="600.11" y="2176.11" font-size="28" text-anchor="end">2.5</text>
<line x1="613.11" y1="2220.05" x2="620.61" y2="2220.05" stroke="#000" stroke-width="2.3"/>
<text x="600.11" y="2228.22" font-size="28" text-anchor="end">2.0</text>
<line x1="613.11" y1="2272.74" x2="620.61" y2="2272.74" stroke="#000" stroke-width="2.3"/>
<text x="600.11" y="2280.91" font-size="28" text-anchor="end">1.5</text>
<line x1="613.11" y1="2325.43" x2="620.61" y2="2325.43" stroke="#000" stroke-width="2.3"/>
<text x="600.11" y="2333.61" font-size="28" text-anchor="end">1.0</text>
<line x1="613.11" y1="2377.54" x2="620.61" y2="2377.54" stroke="#000" stroke-width="2.3"/>
<text x="600.11" y="2385.71" font-size="28" text-anchor="end">0.5</text>
<text x="600.11" y="2438.41" font-size="28" text-anchor="end">0.0</text>
<circle cx="668.03" cy="2107.63" r="8.9" fill="#4A7ABE"/>
<circle cx="887.00" cy="2195.46" r="8.9" fill="#4A7ABE"/>
<circle cx="717.80" cy="2241.71" r="8.9" fill="#4A7ABE"/>
<circle cx="747.66" cy="2243.47" r="8.9" fill="#4A7ABE"/>
<circle cx="696.72" cy="2263.37" r="8.9" fill="#4A7ABE"/>
<line x1="668.03" y1="2203.65" x2="887.00" y2="2222.39" stroke="#444" stroke-width="4.7" stroke-linecap="round" stroke-dasharray="0.01 9.6"/>
<text x="796.25" y="2082.46" font-size="32.5" font-weight="bold" text-anchor="middle">Liver</text>
<text x="663.35" y="2372.27" font-size="26.6">R<tspan font-size="15.5" dy="-9">2</tspan><tspan dy="9">=0.13</tspan></text>
<text x="663.35" y="2401.77" font-size="26.6" fill="#FF0000"><tspan font-style="italic">P</tspan>=0.85</text>
<text x="542.62" y="2246.39" font-size="32.5" font-weight="bold" font-style="italic" text-anchor="middle" transform="rotate(-90 542.62 2246.39)">Slc25a44</text>
<text x="799.77" y="2512.79" font-size="32.5" font-weight="bold" font-style="italic" text-anchor="middle">Slc7a5</text>
<line x1="1118.88" y1="2062.57" x2="1118.88" y2="2437.73" stroke="#000" stroke-width="2.3"/>
<line x1="1111.38" y1="2430.23" x2="1476.59" y2="2430.23" stroke="#000" stroke-width="2.3"/>
<text x="1118.88" y="2470.23" font-size="28" text-anchor="middle">0.0</text>
<line x1="1237.73" y1="2430.23" x2="1237.73" y2="2437.73" stroke="#000" stroke-width="2.3"/>
<text x="1237.73" y="2470.23" font-size="28" text-anchor="middle">1.0</text>
<line x1="1356.58" y1="2430.23" x2="1356.58" y2="2437.73" stroke="#000" stroke-width="2.3"/>
<text x="1356.58" y="2470.23" font-size="28" text-anchor="middle">2.0</text>
<line x1="1475.44" y1="2430.23" x2="1475.44" y2="2437.73" stroke="#000" stroke-width="2.3"/>
<text x="1475.44" y="2470.23" font-size="28" text-anchor="middle">3.0</text>
<line x1="1111.38" y1="2063.72" x2="1118.88" y2="2063.72" stroke="#000" stroke-width="2.3"/>
<text x="1098.38" y="2071.90" font-size="28" text-anchor="end">2.5</text>
<line x1="1111.38" y1="2137.49" x2="1118.88" y2="2137.49" stroke="#000" stroke-width="2.3"/>
<text x="1098.38" y="2145.67" font-size="28" text-anchor="end">2.0</text>
<line x1="1111.38" y1="2210.68" x2="1118.88" y2="2210.68" stroke="#000" stroke-width="2.3"/>
<text x="1098.38" y="2218.85" font-size="28" text-anchor="end">1.5</text>
<line x1="1111.38" y1="2283.86" x2="1118.88" y2="2283.86" stroke="#000" stroke-width="2.3"/>
<text x="1098.38" y="2292.04" font-size="28" text-anchor="end">1.0</text>
<line x1="1111.38" y1="2357.05" x2="1118.88" y2="2357.05" stroke="#000" stroke-width="2.3"/>
<text x="1098.38" y="2365.22" font-size="28" text-anchor="end">0.5</text>
<text x="1098.38" y="2438.41" font-size="28" text-anchor="end">0.0</text>
<circle cx="1413.96" cy="2112.32" r="8.9" fill="#A0C97D"/>
<circle cx="1330.82" cy="2245.22" r="8.9" fill="#A0C97D"/>
<circle cx="1270.52" cy="2265.71" r="8.9" fill="#A0C97D"/>
<circle cx="1245.34" cy="2278.59" r="8.9" fill="#A0C97D"/>
<circle cx="1237.73" cy="2275.67" r="8.9" fill="#A0C97D"/>
<circle cx="1211.97" cy="2283.86" r="8.9" fill="#A0C97D"/>
<line x1="1210.80" y1="2303.77" x2="1411.62" y2="2138.08" stroke="#444" stroke-width="4.7" stroke-linecap="round" stroke-dasharray="0.01 9.6"/>
<text x="1310.92" y="2079.53" font-size="32.5" font-weight="bold" text-anchor="middle">Kidney</text>
<text x="1156.93" y="2372.27" font-size="26.6">R<tspan font-size="15.5" dy="-9">2</tspan><tspan dy="9">=0.87</tspan></text>
<text x="1156.93" y="2401.77" font-size="26.6" fill="#FF0000"><tspan font-style="italic">P</tspan>=0.006</text>
<text x="1040.30" y="2246.39" font-size="32.5" font-weight="bold" font-style="italic" text-anchor="middle" transform="rotate(-90 1040.30 2246.39)">Slc25a44</text>
<text x="1297.45" y="2512.79" font-size="32.5" font-weight="bold" font-style="italic" text-anchor="middle">Slc7a5</text>
<line x1="1612.44" y1="2062.57" x2="1612.44" y2="2437.73" stroke="#000" stroke-width="2.3"/>
<line x1="1604.94" y1="2430.23" x2="1970.15" y2="2430.23" stroke="#000" stroke-width="2.3"/>
<text x="1612.44" y="2470.23" font-size="28" text-anchor="middle">0.0</text>
<line x1="1790.42" y1="2430.23" x2="1790.42" y2="2437.73" stroke="#000" stroke-width="2.3"/>
<text x="1790.42" y="2470.23" font-size="28" text-anchor="middle">0.2</text>
<line x1="1969.00" y1="2430.23" x2="1969.00" y2="2437.73" stroke="#000" stroke-width="2.3"/>
<text x="1969.00" y="2470.23" font-size="28" text-anchor="middle">0.4</text>
<line x1="1604.94" y1="2063.72" x2="1612.44" y2="2063.72" stroke="#000" stroke-width="2.3"/>
<text x="1591.94" y="2071.90" font-size="28" text-anchor="end">1.4</text>
<line x1="1604.94" y1="2115.83" x2="1612.44" y2="2115.83" stroke="#000" stroke-width="2.3"/>
<text x="1591.94" y="2124.00" font-size="28" text-anchor="end">1.2</text>
<line x1="1604.94" y1="2167.94" x2="1612.44" y2="2167.94" stroke="#000" stroke-width="2.3"/>
<text x="1591.94" y="2176.11" font-size="28" text-anchor="end">1.0</text>
<line x1="1604.94" y1="2220.63" x2="1612.44" y2="2220.63" stroke="#000" stroke-width="2.3"/>
<text x="1591.94" y="2228.80" font-size="28" text-anchor="end">0.8</text>
<line x1="1604.94" y1="2272.74" x2="1612.44" y2="2272.74" stroke="#000" stroke-width="2.3"/>
<text x="1591.94" y="2280.91" font-size="28" text-anchor="end">0.6</text>
<line x1="1604.94" y1="2325.43" x2="1612.44" y2="2325.43" stroke="#000" stroke-width="2.3"/>
<text x="1591.94" y="2333.61" font-size="28" text-anchor="end">0.4</text>
<line x1="1604.94" y1="2377.54" x2="1612.44" y2="2377.54" stroke="#000" stroke-width="2.3"/>
<text x="1591.94" y="2385.71" font-size="28" text-anchor="end">0.2</text>
<text x="1591.94" y="2438.41" font-size="28" text-anchor="end">0.0</text>
<circle cx="1825.55" cy="2105.88" r="8.9" fill="#E5853A"/>
<circle cx="1768.76" cy="2268.64" r="8.9" fill="#E5853A"/>
<circle cx="1696.75" cy="2287.96" r="8.9" fill="#E5853A"/>
<circle cx="1906.93" cy="2309.04" r="8.9" fill="#E5853A"/>
<circle cx="1622.98" cy="2368.17" r="8.9" fill="#E5853A"/>
<line x1="1622.98" y1="2325.43" x2="1900.49" y2="2214.19" stroke="#444" stroke-width="4.7" stroke-linecap="round" stroke-dasharray="0.01 9.6"/>
<text x="1793.94" y="2073.68" font-size="32.5" font-weight="bold" text-anchor="middle">Gastroc</text>
<text x="1678.01" y="2378.13" font-size="26.6">R<tspan font-size="15.5" dy="-9">2</tspan><tspan dy="9">=0.20</tspan></text>
<text x="1678.01" y="2407.63" font-size="26.6" fill="#FF0000"><tspan font-style="italic">P</tspan>=0.44</text>
<text x="1534.44" y="2246.39" font-size="32.5" font-weight="bold" font-style="italic" text-anchor="middle" transform="rotate(-90 1534.44 2246.39)">Slc25a44</text>
<text x="1792.18" y="2512.79" font-size="32.5" font-weight="bold" font-style="italic" text-anchor="middle">Slc7a5</text>
</svg>
</body>
</html>
